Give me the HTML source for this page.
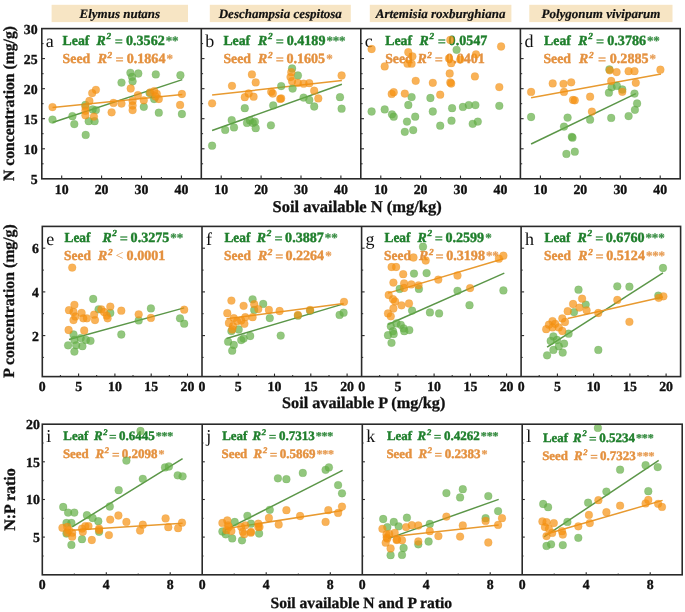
<!DOCTYPE html><html><head><meta charset="utf-8"><style>
html,body{margin:0;padding:0;background:#fff;}
svg{display:block;filter:blur(0.35px);}
text{font-family:"Liberation Serif",serif;text-rendering:geometricPrecision;}
.b{font-weight:bold;stroke:#111;stroke-width:0.3px;}
.tk{font-weight:bold;font-size:13.8px;fill:#111;stroke:#111;stroke-width:0.35px;}
.st{font-weight:bold;font-size:13.8px;stroke-width:0.4px;}
</style></head><body>
<svg width="685" height="612" viewBox="0 0 685 612">
<rect width="685" height="612" fill="#fff"/>
<rect x="51.6" y="4.8" width="136.4" height="17.3" fill="#f7e5c4"/>
<text x="119.8" y="18.2" text-anchor="middle" style="font-weight:bold;font-style:italic;font-size:13px;stroke:#111;stroke-width:0.2px" fill="#111">Elymus nutans</text>
<rect x="209.8" y="4.8" width="141.0" height="17.3" fill="#f7e5c4"/>
<text x="280.3" y="18.2" text-anchor="middle" style="font-weight:bold;font-style:italic;font-size:13px;stroke:#111;stroke-width:0.2px" fill="#111">Deschampsia cespitosa</text>
<rect x="369.8" y="4.8" width="141.6" height="17.3" fill="#f7e5c4"/>
<text x="440.6" y="18.2" text-anchor="middle" style="font-weight:bold;font-style:italic;font-size:13px;stroke:#111;stroke-width:0.2px" fill="#111">Artemisia roxburghiana</text>
<rect x="529.3" y="4.8" width="143.2" height="17.3" fill="#f7e5c4"/>
<text x="600.9" y="18.2" text-anchor="middle" style="font-weight:bold;font-style:italic;font-size:13px;stroke:#111;stroke-width:0.2px" fill="#111">Polygonum viviparum</text>
<text x="45.8" y="46.7" style="font-size:18px" fill="#111">a</text>
<text class="st" transform="translate(62.6,44.8) scale(1.0,1)" fill="#1f7f2c" stroke="#1f7f2c" style="font-size:13.8px">Leaf</text>
<text class="st" x="96.6" y="44.8" fill="#1f7f2c" stroke="#1f7f2c" font-style="italic" style="font-size:13.8px">R</text>
<text class="st" x="106.5" y="39.2" fill="#1f7f2c" stroke="#1f7f2c" font-style="italic" style="font-size:9.2px">2</text>
<text class="st" transform="translate(114.7,45.9) scale(1.04,1)" fill="#1f7f2c" stroke="#1f7f2c" fill-opacity="0.85" stroke-opacity="0.5" style="font-size:13.8px">=</text>
<text class="st" x="126.0" y="44.8" fill="#1f7f2c" stroke="#1f7f2c" style="font-size:14.1px">0.3562<tspan dx="1.0" fill-opacity="0.85" stroke-opacity="0.6" style="letter-spacing:-0.2px;font-size:13.0px">**</tspan></text>
<text class="st" transform="translate(62.6,63.2) scale(1.0,1)" fill="#e4913f" stroke="#e4913f" style="font-size:13.8px">Seed</text>
<text class="st" x="97.7" y="63.2" fill="#e4913f" stroke="#e4913f" font-style="italic" style="font-size:13.8px">R</text>
<text class="st" x="107.6" y="57.6" fill="#e4913f" stroke="#e4913f" font-style="italic" style="font-size:9.2px">2</text>
<text class="st" transform="translate(115.4,64.3) scale(1.04,1)" fill="#e4913f" stroke="#e4913f" fill-opacity="0.85" stroke-opacity="0.5" style="font-size:13.8px">=</text>
<text class="st" x="126.7" y="63.2" fill="#e4913f" stroke="#e4913f" style="font-size:14.1px">0.1864<tspan dx="1.0" fill-opacity="0.85" stroke-opacity="0.6" style="letter-spacing:-0.2px;font-size:13.0px">*</tspan></text>
<line x1="52.5" y1="122.5" x2="182.3" y2="79.6" stroke="#5b9648" stroke-width="1.5"/>
<line x1="52.5" y1="107.5" x2="182.3" y2="94.4" stroke="#e89a30" stroke-width="1.5"/>
<circle cx="52.5" cy="119.6" r="3.9" fill="#64af46" fill-opacity="0.7" stroke="#5a9a40" stroke-opacity="0.3" stroke-width="0.6"/>
<circle cx="72.4" cy="116.2" r="3.9" fill="#64af46" fill-opacity="0.7" stroke="#5a9a40" stroke-opacity="0.3" stroke-width="0.6"/>
<circle cx="74.3" cy="124.1" r="3.9" fill="#64af46" fill-opacity="0.7" stroke="#5a9a40" stroke-opacity="0.3" stroke-width="0.6"/>
<circle cx="85.7" cy="134.9" r="3.9" fill="#64af46" fill-opacity="0.7" stroke="#5a9a40" stroke-opacity="0.3" stroke-width="0.6"/>
<circle cx="85.4" cy="104.9" r="3.9" fill="#64af46" fill-opacity="0.7" stroke="#5a9a40" stroke-opacity="0.3" stroke-width="0.6"/>
<circle cx="88.7" cy="121.2" r="3.9" fill="#64af46" fill-opacity="0.7" stroke="#5a9a40" stroke-opacity="0.3" stroke-width="0.6"/>
<circle cx="94.6" cy="121.2" r="3.9" fill="#64af46" fill-opacity="0.7" stroke="#5a9a40" stroke-opacity="0.3" stroke-width="0.6"/>
<circle cx="95.9" cy="110.1" r="3.9" fill="#64af46" fill-opacity="0.7" stroke="#5a9a40" stroke-opacity="0.3" stroke-width="0.6"/>
<circle cx="92.6" cy="109.4" r="3.9" fill="#64af46" fill-opacity="0.7" stroke="#5a9a40" stroke-opacity="0.3" stroke-width="0.6"/>
<circle cx="121.5" cy="82.6" r="3.9" fill="#64af46" fill-opacity="0.7" stroke="#5a9a40" stroke-opacity="0.3" stroke-width="0.6"/>
<circle cx="130.4" cy="72.8" r="3.9" fill="#64af46" fill-opacity="0.7" stroke="#5a9a40" stroke-opacity="0.3" stroke-width="0.6"/>
<circle cx="132.0" cy="76.8" r="3.9" fill="#64af46" fill-opacity="0.7" stroke="#5a9a40" stroke-opacity="0.3" stroke-width="0.6"/>
<circle cx="138.3" cy="73.5" r="3.9" fill="#64af46" fill-opacity="0.7" stroke="#5a9a40" stroke-opacity="0.3" stroke-width="0.6"/>
<circle cx="132.6" cy="81.3" r="3.9" fill="#64af46" fill-opacity="0.7" stroke="#5a9a40" stroke-opacity="0.3" stroke-width="0.6"/>
<circle cx="155.8" cy="74.4" r="3.9" fill="#64af46" fill-opacity="0.7" stroke="#5a9a40" stroke-opacity="0.3" stroke-width="0.6"/>
<circle cx="180.4" cy="75.2" r="3.9" fill="#64af46" fill-opacity="0.7" stroke="#5a9a40" stroke-opacity="0.3" stroke-width="0.6"/>
<circle cx="143.8" cy="106.8" r="3.9" fill="#64af46" fill-opacity="0.7" stroke="#5a9a40" stroke-opacity="0.3" stroke-width="0.6"/>
<circle cx="154.2" cy="99.0" r="3.9" fill="#64af46" fill-opacity="0.7" stroke="#5a9a40" stroke-opacity="0.3" stroke-width="0.6"/>
<circle cx="158.8" cy="112.7" r="3.9" fill="#64af46" fill-opacity="0.7" stroke="#5a9a40" stroke-opacity="0.3" stroke-width="0.6"/>
<circle cx="181.9" cy="114.0" r="3.9" fill="#64af46" fill-opacity="0.7" stroke="#5a9a40" stroke-opacity="0.3" stroke-width="0.6"/>
<circle cx="149.6" cy="93.1" r="3.9" fill="#64af46" fill-opacity="0.7" stroke="#5a9a40" stroke-opacity="0.3" stroke-width="0.6"/>
<circle cx="52.5" cy="107.1" r="3.9" fill="#f7910f" fill-opacity="0.7" stroke="#e08a20" stroke-opacity="0.3" stroke-width="0.6"/>
<circle cx="95.9" cy="89.8" r="3.9" fill="#f7910f" fill-opacity="0.7" stroke="#e08a20" stroke-opacity="0.3" stroke-width="0.6"/>
<circle cx="92.2" cy="93.1" r="3.9" fill="#f7910f" fill-opacity="0.7" stroke="#e08a20" stroke-opacity="0.3" stroke-width="0.6"/>
<circle cx="89.4" cy="100.9" r="3.9" fill="#f7910f" fill-opacity="0.7" stroke="#e08a20" stroke-opacity="0.3" stroke-width="0.6"/>
<circle cx="85.4" cy="106.8" r="3.9" fill="#f7910f" fill-opacity="0.7" stroke="#e08a20" stroke-opacity="0.3" stroke-width="0.6"/>
<circle cx="85.4" cy="110.8" r="3.9" fill="#f7910f" fill-opacity="0.7" stroke="#e08a20" stroke-opacity="0.3" stroke-width="0.6"/>
<circle cx="85.4" cy="115.3" r="3.9" fill="#f7910f" fill-opacity="0.7" stroke="#e08a20" stroke-opacity="0.3" stroke-width="0.6"/>
<circle cx="93.9" cy="116.6" r="3.9" fill="#f7910f" fill-opacity="0.7" stroke="#e08a20" stroke-opacity="0.3" stroke-width="0.6"/>
<circle cx="111.6" cy="112.3" r="3.9" fill="#f7910f" fill-opacity="0.7" stroke="#e08a20" stroke-opacity="0.3" stroke-width="0.6"/>
<circle cx="113.5" cy="102.9" r="3.9" fill="#f7910f" fill-opacity="0.7" stroke="#e08a20" stroke-opacity="0.3" stroke-width="0.6"/>
<circle cx="121.5" cy="103.6" r="3.9" fill="#f7910f" fill-opacity="0.7" stroke="#e08a20" stroke-opacity="0.3" stroke-width="0.6"/>
<circle cx="130.7" cy="88.5" r="3.9" fill="#f7910f" fill-opacity="0.7" stroke="#e08a20" stroke-opacity="0.3" stroke-width="0.6"/>
<circle cx="137.9" cy="95.1" r="3.9" fill="#f7910f" fill-opacity="0.7" stroke="#e08a20" stroke-opacity="0.3" stroke-width="0.6"/>
<circle cx="132.6" cy="100.9" r="3.9" fill="#f7910f" fill-opacity="0.7" stroke="#e08a20" stroke-opacity="0.3" stroke-width="0.6"/>
<circle cx="132.6" cy="105.5" r="3.9" fill="#f7910f" fill-opacity="0.7" stroke="#e08a20" stroke-opacity="0.3" stroke-width="0.6"/>
<circle cx="132.6" cy="110.1" r="3.9" fill="#f7910f" fill-opacity="0.7" stroke="#e08a20" stroke-opacity="0.3" stroke-width="0.6"/>
<circle cx="143.8" cy="100.3" r="3.9" fill="#f7910f" fill-opacity="0.7" stroke="#e08a20" stroke-opacity="0.3" stroke-width="0.6"/>
<circle cx="150.3" cy="92.5" r="3.9" fill="#f7910f" fill-opacity="0.7" stroke="#e08a20" stroke-opacity="0.3" stroke-width="0.6"/>
<circle cx="154.2" cy="91.1" r="3.9" fill="#f7910f" fill-opacity="0.7" stroke="#e08a20" stroke-opacity="0.3" stroke-width="0.6"/>
<circle cx="156.8" cy="93.8" r="3.9" fill="#f7910f" fill-opacity="0.7" stroke="#e08a20" stroke-opacity="0.3" stroke-width="0.6"/>
<circle cx="158.8" cy="99.0" r="3.9" fill="#f7910f" fill-opacity="0.7" stroke="#e08a20" stroke-opacity="0.3" stroke-width="0.6"/>
<circle cx="155.5" cy="96.4" r="3.9" fill="#f7910f" fill-opacity="0.7" stroke="#e08a20" stroke-opacity="0.3" stroke-width="0.6"/>
<circle cx="181.9" cy="94.0" r="3.9" fill="#f7910f" fill-opacity="0.7" stroke="#e08a20" stroke-opacity="0.3" stroke-width="0.6"/>
<circle cx="180.1" cy="104.9" r="3.9" fill="#f7910f" fill-opacity="0.7" stroke="#e08a20" stroke-opacity="0.3" stroke-width="0.6"/>
<line x1="61.7" y1="178.8" x2="61.7" y2="175.6" stroke="#2a2a2a" stroke-width="1.1"/>
<line x1="101.6" y1="178.8" x2="101.6" y2="175.6" stroke="#2a2a2a" stroke-width="1.1"/>
<line x1="141.5" y1="178.8" x2="141.5" y2="175.6" stroke="#2a2a2a" stroke-width="1.1"/>
<line x1="181.4" y1="178.8" x2="181.4" y2="175.6" stroke="#2a2a2a" stroke-width="1.1"/>
<line x1="81.7" y1="178.8" x2="81.7" y2="177.0" stroke="#2a2a2a" stroke-width="1.0"/>
<line x1="121.5" y1="178.8" x2="121.5" y2="177.0" stroke="#2a2a2a" stroke-width="1.0"/>
<line x1="161.4" y1="178.8" x2="161.4" y2="177.0" stroke="#2a2a2a" stroke-width="1.0"/>
<line x1="41.8" y1="148.8" x2="45.0" y2="148.8" stroke="#2a2a2a" stroke-width="1.1"/>
<line x1="41.8" y1="118.7" x2="45.0" y2="118.7" stroke="#2a2a2a" stroke-width="1.1"/>
<line x1="41.8" y1="88.7" x2="45.0" y2="88.7" stroke="#2a2a2a" stroke-width="1.1"/>
<line x1="41.8" y1="58.6" x2="45.0" y2="58.6" stroke="#2a2a2a" stroke-width="1.1"/>
<line x1="41.8" y1="163.8" x2="43.6" y2="163.8" stroke="#2a2a2a" stroke-width="1.0"/>
<line x1="41.8" y1="133.7" x2="43.6" y2="133.7" stroke="#2a2a2a" stroke-width="1.0"/>
<line x1="41.8" y1="103.7" x2="43.6" y2="103.7" stroke="#2a2a2a" stroke-width="1.0"/>
<line x1="41.8" y1="73.7" x2="43.6" y2="73.7" stroke="#2a2a2a" stroke-width="1.0"/>
<line x1="41.8" y1="43.6" x2="43.6" y2="43.6" stroke="#2a2a2a" stroke-width="1.0"/>
<text class="tk" x="61.7" y="193.9" text-anchor="middle">10</text>
<text class="tk" x="101.6" y="193.9" text-anchor="middle">20</text>
<text class="tk" x="141.5" y="193.9" text-anchor="middle">30</text>
<text class="tk" x="181.4" y="193.9" text-anchor="middle">40</text>
<text class="tk" x="37.6" y="183.7" text-anchor="end">5</text>
<text class="tk" x="37.6" y="153.7" text-anchor="end">10</text>
<text class="tk" x="37.6" y="123.6" text-anchor="end">15</text>
<text class="tk" x="37.6" y="93.6" text-anchor="end">20</text>
<text class="tk" x="37.6" y="63.5" text-anchor="end">25</text>
<text class="tk" x="37.6" y="33.5" text-anchor="end">30</text>
<text x="205.3" y="46.7" style="font-size:18px" fill="#111">b</text>
<text class="st" transform="translate(223.4,44.8) scale(1.0,1)" fill="#1f7f2c" stroke="#1f7f2c" style="font-size:13.8px">Leaf</text>
<text class="st" x="258.1" y="44.8" fill="#1f7f2c" stroke="#1f7f2c" font-style="italic" style="font-size:13.8px">R</text>
<text class="st" x="268.0" y="39.2" fill="#1f7f2c" stroke="#1f7f2c" font-style="italic" style="font-size:9.2px">2</text>
<text class="st" transform="translate(275.7,45.9) scale(1.04,1)" fill="#1f7f2c" stroke="#1f7f2c" fill-opacity="0.85" stroke-opacity="0.5" style="font-size:13.8px">=</text>
<text class="st" x="286.7" y="44.8" fill="#1f7f2c" stroke="#1f7f2c" style="font-size:14.1px">0.4189<tspan dx="1.0" fill-opacity="0.85" stroke-opacity="0.6" style="letter-spacing:-0.2px;font-size:13.0px">***</tspan></text>
<text class="st" transform="translate(223.4,63.2) scale(1.0,1)" fill="#e4913f" stroke="#e4913f" style="font-size:13.8px">Seed</text>
<text class="st" x="258.1" y="63.2" fill="#e4913f" stroke="#e4913f" font-style="italic" style="font-size:13.8px">R</text>
<text class="st" x="268.0" y="57.6" fill="#e4913f" stroke="#e4913f" font-style="italic" style="font-size:9.2px">2</text>
<text class="st" transform="translate(275.8,64.3) scale(1.04,1)" fill="#e4913f" stroke="#e4913f" fill-opacity="0.85" stroke-opacity="0.5" style="font-size:13.8px">=</text>
<text class="st" x="286.4" y="63.2" fill="#e4913f" stroke="#e4913f" style="font-size:14.1px">0.1605<tspan dx="1.0" fill-opacity="0.85" stroke-opacity="0.6" style="letter-spacing:-0.2px;font-size:13.0px">*</tspan></text>
<line x1="212.1" y1="130.5" x2="341.9" y2="84.2" stroke="#5b9648" stroke-width="1.5"/>
<line x1="212.1" y1="95.1" x2="341.9" y2="80.4" stroke="#e89a30" stroke-width="1.5"/>
<circle cx="212.1" cy="145.7" r="3.9" fill="#64af46" fill-opacity="0.7" stroke="#5a9a40" stroke-opacity="0.3" stroke-width="0.6"/>
<circle cx="225.2" cy="129.9" r="3.9" fill="#64af46" fill-opacity="0.7" stroke="#5a9a40" stroke-opacity="0.3" stroke-width="0.6"/>
<circle cx="231.7" cy="120.1" r="3.9" fill="#64af46" fill-opacity="0.7" stroke="#5a9a40" stroke-opacity="0.3" stroke-width="0.6"/>
<circle cx="234.0" cy="127.4" r="3.9" fill="#64af46" fill-opacity="0.7" stroke="#5a9a40" stroke-opacity="0.3" stroke-width="0.6"/>
<circle cx="244.8" cy="108.2" r="3.9" fill="#64af46" fill-opacity="0.7" stroke="#5a9a40" stroke-opacity="0.3" stroke-width="0.6"/>
<circle cx="247.0" cy="122.9" r="3.9" fill="#64af46" fill-opacity="0.7" stroke="#5a9a40" stroke-opacity="0.3" stroke-width="0.6"/>
<circle cx="250.0" cy="120.4" r="3.9" fill="#64af46" fill-opacity="0.7" stroke="#5a9a40" stroke-opacity="0.3" stroke-width="0.6"/>
<circle cx="252.9" cy="122.9" r="3.9" fill="#64af46" fill-opacity="0.7" stroke="#5a9a40" stroke-opacity="0.3" stroke-width="0.6"/>
<circle cx="254.9" cy="121.7" r="3.9" fill="#64af46" fill-opacity="0.7" stroke="#5a9a40" stroke-opacity="0.3" stroke-width="0.6"/>
<circle cx="255.7" cy="128.2" r="3.9" fill="#64af46" fill-opacity="0.7" stroke="#5a9a40" stroke-opacity="0.3" stroke-width="0.6"/>
<circle cx="270.9" cy="125.3" r="3.9" fill="#64af46" fill-opacity="0.7" stroke="#5a9a40" stroke-opacity="0.3" stroke-width="0.6"/>
<circle cx="273.2" cy="105.4" r="3.9" fill="#64af46" fill-opacity="0.7" stroke="#5a9a40" stroke-opacity="0.3" stroke-width="0.6"/>
<circle cx="281.2" cy="86.1" r="3.9" fill="#64af46" fill-opacity="0.7" stroke="#5a9a40" stroke-opacity="0.3" stroke-width="0.6"/>
<circle cx="292.1" cy="68.5" r="3.9" fill="#64af46" fill-opacity="0.7" stroke="#5a9a40" stroke-opacity="0.3" stroke-width="0.6"/>
<circle cx="297.9" cy="75.5" r="3.9" fill="#64af46" fill-opacity="0.7" stroke="#5a9a40" stroke-opacity="0.3" stroke-width="0.6"/>
<circle cx="292.6" cy="88.6" r="3.9" fill="#64af46" fill-opacity="0.7" stroke="#5a9a40" stroke-opacity="0.3" stroke-width="0.6"/>
<circle cx="303.6" cy="97.6" r="3.9" fill="#64af46" fill-opacity="0.7" stroke="#5a9a40" stroke-opacity="0.3" stroke-width="0.6"/>
<circle cx="309.3" cy="100.0" r="3.9" fill="#64af46" fill-opacity="0.7" stroke="#5a9a40" stroke-opacity="0.3" stroke-width="0.6"/>
<circle cx="314.2" cy="106.5" r="3.9" fill="#64af46" fill-opacity="0.7" stroke="#5a9a40" stroke-opacity="0.3" stroke-width="0.6"/>
<circle cx="340.0" cy="97.2" r="3.9" fill="#64af46" fill-opacity="0.7" stroke="#5a9a40" stroke-opacity="0.3" stroke-width="0.6"/>
<circle cx="341.6" cy="108.7" r="3.9" fill="#64af46" fill-opacity="0.7" stroke="#5a9a40" stroke-opacity="0.3" stroke-width="0.6"/>
<circle cx="212.1" cy="103.3" r="3.9" fill="#f7910f" fill-opacity="0.7" stroke="#e08a20" stroke-opacity="0.3" stroke-width="0.6"/>
<circle cx="232.0" cy="85.8" r="3.9" fill="#f7910f" fill-opacity="0.7" stroke="#e08a20" stroke-opacity="0.3" stroke-width="0.6"/>
<circle cx="251.9" cy="74.4" r="3.9" fill="#f7910f" fill-opacity="0.7" stroke="#e08a20" stroke-opacity="0.3" stroke-width="0.6"/>
<circle cx="255.7" cy="82.4" r="3.9" fill="#f7910f" fill-opacity="0.7" stroke="#e08a20" stroke-opacity="0.3" stroke-width="0.6"/>
<circle cx="244.8" cy="97.2" r="3.9" fill="#f7910f" fill-opacity="0.7" stroke="#e08a20" stroke-opacity="0.3" stroke-width="0.6"/>
<circle cx="248.7" cy="93.5" r="3.9" fill="#f7910f" fill-opacity="0.7" stroke="#e08a20" stroke-opacity="0.3" stroke-width="0.6"/>
<circle cx="253.6" cy="96.7" r="3.9" fill="#f7910f" fill-opacity="0.7" stroke="#e08a20" stroke-opacity="0.3" stroke-width="0.6"/>
<circle cx="271.2" cy="91.8" r="3.9" fill="#f7910f" fill-opacity="0.7" stroke="#e08a20" stroke-opacity="0.3" stroke-width="0.6"/>
<circle cx="272.8" cy="93.5" r="3.9" fill="#f7910f" fill-opacity="0.7" stroke="#e08a20" stroke-opacity="0.3" stroke-width="0.6"/>
<circle cx="280.2" cy="98.9" r="3.9" fill="#f7910f" fill-opacity="0.7" stroke="#e08a20" stroke-opacity="0.3" stroke-width="0.6"/>
<circle cx="281.2" cy="98.4" r="3.9" fill="#f7910f" fill-opacity="0.7" stroke="#e08a20" stroke-opacity="0.3" stroke-width="0.6"/>
<circle cx="291.3" cy="72.2" r="3.9" fill="#f7910f" fill-opacity="0.7" stroke="#e08a20" stroke-opacity="0.3" stroke-width="0.6"/>
<circle cx="290.5" cy="77.1" r="3.9" fill="#f7910f" fill-opacity="0.7" stroke="#e08a20" stroke-opacity="0.3" stroke-width="0.6"/>
<circle cx="292.1" cy="81.2" r="3.9" fill="#f7910f" fill-opacity="0.7" stroke="#e08a20" stroke-opacity="0.3" stroke-width="0.6"/>
<circle cx="297.9" cy="82.9" r="3.9" fill="#f7910f" fill-opacity="0.7" stroke="#e08a20" stroke-opacity="0.3" stroke-width="0.6"/>
<circle cx="303.6" cy="83.7" r="3.9" fill="#f7910f" fill-opacity="0.7" stroke="#e08a20" stroke-opacity="0.3" stroke-width="0.6"/>
<circle cx="309.3" cy="83.2" r="3.9" fill="#f7910f" fill-opacity="0.7" stroke="#e08a20" stroke-opacity="0.3" stroke-width="0.6"/>
<circle cx="314.2" cy="90.7" r="3.9" fill="#f7910f" fill-opacity="0.7" stroke="#e08a20" stroke-opacity="0.3" stroke-width="0.6"/>
<circle cx="318.3" cy="98.4" r="3.9" fill="#f7910f" fill-opacity="0.7" stroke="#e08a20" stroke-opacity="0.3" stroke-width="0.6"/>
<circle cx="341.6" cy="75.5" r="3.9" fill="#f7910f" fill-opacity="0.7" stroke="#e08a20" stroke-opacity="0.3" stroke-width="0.6"/>
<line x1="221.2" y1="178.8" x2="221.2" y2="175.6" stroke="#2a2a2a" stroke-width="1.1"/>
<line x1="261.1" y1="178.8" x2="261.1" y2="175.6" stroke="#2a2a2a" stroke-width="1.1"/>
<line x1="301.0" y1="178.8" x2="301.0" y2="175.6" stroke="#2a2a2a" stroke-width="1.1"/>
<line x1="340.9" y1="178.8" x2="340.9" y2="175.6" stroke="#2a2a2a" stroke-width="1.1"/>
<line x1="241.2" y1="178.8" x2="241.2" y2="177.0" stroke="#2a2a2a" stroke-width="1.0"/>
<line x1="281.1" y1="178.8" x2="281.1" y2="177.0" stroke="#2a2a2a" stroke-width="1.0"/>
<line x1="320.9" y1="178.8" x2="320.9" y2="177.0" stroke="#2a2a2a" stroke-width="1.0"/>
<line x1="201.3" y1="148.8" x2="204.5" y2="148.8" stroke="#2a2a2a" stroke-width="1.1"/>
<line x1="201.3" y1="118.7" x2="204.5" y2="118.7" stroke="#2a2a2a" stroke-width="1.1"/>
<line x1="201.3" y1="88.7" x2="204.5" y2="88.7" stroke="#2a2a2a" stroke-width="1.1"/>
<line x1="201.3" y1="58.6" x2="204.5" y2="58.6" stroke="#2a2a2a" stroke-width="1.1"/>
<line x1="201.3" y1="163.8" x2="203.1" y2="163.8" stroke="#2a2a2a" stroke-width="1.0"/>
<line x1="201.3" y1="133.7" x2="203.1" y2="133.7" stroke="#2a2a2a" stroke-width="1.0"/>
<line x1="201.3" y1="103.7" x2="203.1" y2="103.7" stroke="#2a2a2a" stroke-width="1.0"/>
<line x1="201.3" y1="73.7" x2="203.1" y2="73.7" stroke="#2a2a2a" stroke-width="1.0"/>
<line x1="201.3" y1="43.6" x2="203.1" y2="43.6" stroke="#2a2a2a" stroke-width="1.0"/>
<text class="tk" x="221.2" y="193.9" text-anchor="middle">10</text>
<text class="tk" x="261.1" y="193.9" text-anchor="middle">20</text>
<text class="tk" x="301.0" y="193.9" text-anchor="middle">30</text>
<text class="tk" x="340.9" y="193.9" text-anchor="middle">40</text>
<text x="364.8" y="46.7" style="font-size:18px" fill="#111">c</text>
<text class="st" transform="translate(385.2,44.8) scale(1.0,1)" fill="#1f7f2c" stroke="#1f7f2c" style="font-size:13.8px">Leaf</text>
<text class="st" x="419.6" y="44.8" fill="#1f7f2c" stroke="#1f7f2c" font-style="italic" style="font-size:13.8px">R</text>
<text class="st" x="429.5" y="39.2" fill="#1f7f2c" stroke="#1f7f2c" font-style="italic" style="font-size:9.2px">2</text>
<text class="st" transform="translate(437.7,45.9) scale(1.04,1)" fill="#1f7f2c" stroke="#1f7f2c" fill-opacity="0.85" stroke-opacity="0.5" style="font-size:13.8px">=</text>
<text class="st" x="448.6" y="44.8" fill="#1f7f2c" stroke="#1f7f2c" style="font-size:14.1px">0.0547</text>
<text class="st" transform="translate(385.2,63.2) scale(1.0,1)" fill="#e4913f" stroke="#e4913f" style="font-size:13.8px">Seed</text>
<text class="st" x="417.4" y="63.2" fill="#e4913f" stroke="#e4913f" font-style="italic" style="font-size:13.8px">R</text>
<text class="st" x="427.3" y="57.6" fill="#e4913f" stroke="#e4913f" font-style="italic" style="font-size:9.2px">2</text>
<text class="st" transform="translate(434.7,64.3) scale(1.04,1)" fill="#e4913f" stroke="#e4913f" fill-opacity="0.85" stroke-opacity="0.5" style="font-size:13.8px">=</text>
<text class="st" x="446.1" y="63.2" fill="#e4913f" stroke="#e4913f" style="font-size:14.1px">0.0401</text>
<circle cx="371.6" cy="111.5" r="3.9" fill="#64af46" fill-opacity="0.7" stroke="#5a9a40" stroke-opacity="0.3" stroke-width="0.6"/>
<circle cx="384.7" cy="109.4" r="3.9" fill="#64af46" fill-opacity="0.7" stroke="#5a9a40" stroke-opacity="0.3" stroke-width="0.6"/>
<circle cx="392.0" cy="114.3" r="3.9" fill="#64af46" fill-opacity="0.7" stroke="#5a9a40" stroke-opacity="0.3" stroke-width="0.6"/>
<circle cx="393.7" cy="116.7" r="3.9" fill="#64af46" fill-opacity="0.7" stroke="#5a9a40" stroke-opacity="0.3" stroke-width="0.6"/>
<circle cx="411.6" cy="97.1" r="3.9" fill="#64af46" fill-opacity="0.7" stroke="#5a9a40" stroke-opacity="0.3" stroke-width="0.6"/>
<circle cx="408.3" cy="105.0" r="3.9" fill="#64af46" fill-opacity="0.7" stroke="#5a9a40" stroke-opacity="0.3" stroke-width="0.6"/>
<circle cx="415.2" cy="116.7" r="3.9" fill="#64af46" fill-opacity="0.7" stroke="#5a9a40" stroke-opacity="0.3" stroke-width="0.6"/>
<circle cx="407.0" cy="121.6" r="3.9" fill="#64af46" fill-opacity="0.7" stroke="#5a9a40" stroke-opacity="0.3" stroke-width="0.6"/>
<circle cx="404.8" cy="131.8" r="3.9" fill="#64af46" fill-opacity="0.7" stroke="#5a9a40" stroke-opacity="0.3" stroke-width="0.6"/>
<circle cx="413.2" cy="130.1" r="3.9" fill="#64af46" fill-opacity="0.7" stroke="#5a9a40" stroke-opacity="0.3" stroke-width="0.6"/>
<circle cx="430.4" cy="98.0" r="3.9" fill="#64af46" fill-opacity="0.7" stroke="#5a9a40" stroke-opacity="0.3" stroke-width="0.6"/>
<circle cx="432.8" cy="111.5" r="3.9" fill="#64af46" fill-opacity="0.7" stroke="#5a9a40" stroke-opacity="0.3" stroke-width="0.6"/>
<circle cx="440.2" cy="125.7" r="3.9" fill="#64af46" fill-opacity="0.7" stroke="#5a9a40" stroke-opacity="0.3" stroke-width="0.6"/>
<circle cx="456.6" cy="49.8" r="3.9" fill="#64af46" fill-opacity="0.7" stroke="#5a9a40" stroke-opacity="0.3" stroke-width="0.6"/>
<circle cx="452.1" cy="108.2" r="3.9" fill="#64af46" fill-opacity="0.7" stroke="#5a9a40" stroke-opacity="0.3" stroke-width="0.6"/>
<circle cx="462.9" cy="106.9" r="3.9" fill="#64af46" fill-opacity="0.7" stroke="#5a9a40" stroke-opacity="0.3" stroke-width="0.6"/>
<circle cx="468.8" cy="105.1" r="3.9" fill="#64af46" fill-opacity="0.7" stroke="#5a9a40" stroke-opacity="0.3" stroke-width="0.6"/>
<circle cx="475.4" cy="105.1" r="3.9" fill="#64af46" fill-opacity="0.7" stroke="#5a9a40" stroke-opacity="0.3" stroke-width="0.6"/>
<circle cx="499.3" cy="105.8" r="3.9" fill="#64af46" fill-opacity="0.7" stroke="#5a9a40" stroke-opacity="0.3" stroke-width="0.6"/>
<circle cx="451.5" cy="120.7" r="3.9" fill="#64af46" fill-opacity="0.7" stroke="#5a9a40" stroke-opacity="0.3" stroke-width="0.6"/>
<circle cx="472.7" cy="123.8" r="3.9" fill="#64af46" fill-opacity="0.7" stroke="#5a9a40" stroke-opacity="0.3" stroke-width="0.6"/>
<circle cx="477.8" cy="121.6" r="3.9" fill="#64af46" fill-opacity="0.7" stroke="#5a9a40" stroke-opacity="0.3" stroke-width="0.6"/>
<circle cx="371.6" cy="49.0" r="3.9" fill="#f7910f" fill-opacity="0.7" stroke="#e08a20" stroke-opacity="0.3" stroke-width="0.6"/>
<circle cx="384.7" cy="66.4" r="3.9" fill="#f7910f" fill-opacity="0.7" stroke="#e08a20" stroke-opacity="0.3" stroke-width="0.6"/>
<circle cx="408.3" cy="52.2" r="3.9" fill="#f7910f" fill-opacity="0.7" stroke="#e08a20" stroke-opacity="0.3" stroke-width="0.6"/>
<circle cx="412.4" cy="56.3" r="3.9" fill="#f7910f" fill-opacity="0.7" stroke="#e08a20" stroke-opacity="0.3" stroke-width="0.6"/>
<circle cx="407.5" cy="63.7" r="3.9" fill="#f7910f" fill-opacity="0.7" stroke="#e08a20" stroke-opacity="0.3" stroke-width="0.6"/>
<circle cx="411.6" cy="63.7" r="3.9" fill="#f7910f" fill-opacity="0.7" stroke="#e08a20" stroke-opacity="0.3" stroke-width="0.6"/>
<circle cx="415.7" cy="80.8" r="3.9" fill="#f7910f" fill-opacity="0.7" stroke="#e08a20" stroke-opacity="0.3" stroke-width="0.6"/>
<circle cx="432.8" cy="82.8" r="3.9" fill="#f7910f" fill-opacity="0.7" stroke="#e08a20" stroke-opacity="0.3" stroke-width="0.6"/>
<circle cx="391.7" cy="93.9" r="3.9" fill="#f7910f" fill-opacity="0.7" stroke="#e08a20" stroke-opacity="0.3" stroke-width="0.6"/>
<circle cx="393.7" cy="92.2" r="3.9" fill="#f7910f" fill-opacity="0.7" stroke="#e08a20" stroke-opacity="0.3" stroke-width="0.6"/>
<circle cx="404.8" cy="93.6" r="3.9" fill="#f7910f" fill-opacity="0.7" stroke="#e08a20" stroke-opacity="0.3" stroke-width="0.6"/>
<circle cx="440.2" cy="94.7" r="3.9" fill="#f7910f" fill-opacity="0.7" stroke="#e08a20" stroke-opacity="0.3" stroke-width="0.6"/>
<circle cx="450.3" cy="39.9" r="3.9" fill="#f7910f" fill-opacity="0.7" stroke="#e08a20" stroke-opacity="0.3" stroke-width="0.6"/>
<circle cx="501.1" cy="46.5" r="3.9" fill="#f7910f" fill-opacity="0.7" stroke="#e08a20" stroke-opacity="0.3" stroke-width="0.6"/>
<circle cx="451.2" cy="63.2" r="3.9" fill="#f7910f" fill-opacity="0.7" stroke="#e08a20" stroke-opacity="0.3" stroke-width="0.6"/>
<circle cx="449.0" cy="58.4" r="3.9" fill="#f7910f" fill-opacity="0.7" stroke="#e08a20" stroke-opacity="0.3" stroke-width="0.6"/>
<circle cx="460.2" cy="59.6" r="3.9" fill="#f7910f" fill-opacity="0.7" stroke="#e08a20" stroke-opacity="0.3" stroke-width="0.6"/>
<circle cx="476.0" cy="54.3" r="3.9" fill="#f7910f" fill-opacity="0.7" stroke="#e08a20" stroke-opacity="0.3" stroke-width="0.6"/>
<circle cx="449.7" cy="73.5" r="3.9" fill="#f7910f" fill-opacity="0.7" stroke="#e08a20" stroke-opacity="0.3" stroke-width="0.6"/>
<circle cx="474.9" cy="76.4" r="3.9" fill="#f7910f" fill-opacity="0.7" stroke="#e08a20" stroke-opacity="0.3" stroke-width="0.6"/>
<circle cx="450.3" cy="82.5" r="3.9" fill="#f7910f" fill-opacity="0.7" stroke="#e08a20" stroke-opacity="0.3" stroke-width="0.6"/>
<circle cx="451.2" cy="83.5" r="3.9" fill="#f7910f" fill-opacity="0.7" stroke="#e08a20" stroke-opacity="0.3" stroke-width="0.6"/>
<circle cx="499.3" cy="87.1" r="3.9" fill="#f7910f" fill-opacity="0.7" stroke="#e08a20" stroke-opacity="0.3" stroke-width="0.6"/>
<line x1="380.8" y1="178.8" x2="380.8" y2="175.6" stroke="#2a2a2a" stroke-width="1.1"/>
<line x1="420.6" y1="178.8" x2="420.6" y2="175.6" stroke="#2a2a2a" stroke-width="1.1"/>
<line x1="460.5" y1="178.8" x2="460.5" y2="175.6" stroke="#2a2a2a" stroke-width="1.1"/>
<line x1="500.4" y1="178.8" x2="500.4" y2="175.6" stroke="#2a2a2a" stroke-width="1.1"/>
<line x1="400.7" y1="178.8" x2="400.7" y2="177.0" stroke="#2a2a2a" stroke-width="1.0"/>
<line x1="440.6" y1="178.8" x2="440.6" y2="177.0" stroke="#2a2a2a" stroke-width="1.0"/>
<line x1="480.5" y1="178.8" x2="480.5" y2="177.0" stroke="#2a2a2a" stroke-width="1.0"/>
<line x1="360.8" y1="148.8" x2="364.0" y2="148.8" stroke="#2a2a2a" stroke-width="1.1"/>
<line x1="360.8" y1="118.7" x2="364.0" y2="118.7" stroke="#2a2a2a" stroke-width="1.1"/>
<line x1="360.8" y1="88.7" x2="364.0" y2="88.7" stroke="#2a2a2a" stroke-width="1.1"/>
<line x1="360.8" y1="58.6" x2="364.0" y2="58.6" stroke="#2a2a2a" stroke-width="1.1"/>
<line x1="360.8" y1="163.8" x2="362.6" y2="163.8" stroke="#2a2a2a" stroke-width="1.0"/>
<line x1="360.8" y1="133.7" x2="362.6" y2="133.7" stroke="#2a2a2a" stroke-width="1.0"/>
<line x1="360.8" y1="103.7" x2="362.6" y2="103.7" stroke="#2a2a2a" stroke-width="1.0"/>
<line x1="360.8" y1="73.7" x2="362.6" y2="73.7" stroke="#2a2a2a" stroke-width="1.0"/>
<line x1="360.8" y1="43.6" x2="362.6" y2="43.6" stroke="#2a2a2a" stroke-width="1.0"/>
<text class="tk" x="380.8" y="193.9" text-anchor="middle">10</text>
<text class="tk" x="420.6" y="193.9" text-anchor="middle">20</text>
<text class="tk" x="460.5" y="193.9" text-anchor="middle">30</text>
<text class="tk" x="500.4" y="193.9" text-anchor="middle">40</text>
<text x="524.4" y="46.7" style="font-size:18px" fill="#111">d</text>
<text class="st" transform="translate(544.1,44.8) scale(1.0,1)" fill="#1f7f2c" stroke="#1f7f2c" style="font-size:13.8px">Leaf</text>
<text class="st" x="578.3" y="44.8" fill="#1f7f2c" stroke="#1f7f2c" font-style="italic" style="font-size:13.8px">R</text>
<text class="st" x="588.2" y="39.2" fill="#1f7f2c" stroke="#1f7f2c" font-style="italic" style="font-size:9.2px">2</text>
<text class="st" transform="translate(595.9,45.9) scale(1.04,1)" fill="#1f7f2c" stroke="#1f7f2c" fill-opacity="0.85" stroke-opacity="0.5" style="font-size:13.8px">=</text>
<text class="st" x="607.3" y="44.8" fill="#1f7f2c" stroke="#1f7f2c" style="font-size:14.1px">0.3786<tspan dx="1.0" fill-opacity="0.85" stroke-opacity="0.6" style="letter-spacing:-0.2px;font-size:13.0px">**</tspan></text>
<text class="st" transform="translate(543.4,63.2) scale(1.0,1)" fill="#e4913f" stroke="#e4913f" style="font-size:13.8px">Seed</text>
<text class="st" x="579.0" y="63.2" fill="#e4913f" stroke="#e4913f" font-style="italic" style="font-size:13.8px">R</text>
<text class="st" x="588.9" y="57.6" fill="#e4913f" stroke="#e4913f" font-style="italic" style="font-size:9.2px">2</text>
<text class="st" transform="translate(598.1,64.3) scale(1.04,1)" fill="#e4913f" stroke="#e4913f" fill-opacity="0.85" stroke-opacity="0.5" style="font-size:13.8px">=</text>
<text class="st" x="609.8" y="63.2" fill="#e4913f" stroke="#e4913f" style="font-size:14.1px">0.2885<tspan dx="1.0" fill-opacity="0.85" stroke-opacity="0.6" style="letter-spacing:-0.2px;font-size:13.0px">*</tspan></text>
<line x1="531.1" y1="144.0" x2="635.8" y2="93.6" stroke="#5b9648" stroke-width="1.5"/>
<line x1="531.1" y1="97.8" x2="661.0" y2="73.9" stroke="#e89a30" stroke-width="1.5"/>
<circle cx="531.1" cy="117.0" r="3.9" fill="#64af46" fill-opacity="0.7" stroke="#5a9a40" stroke-opacity="0.3" stroke-width="0.6"/>
<circle cx="567.6" cy="117.6" r="3.9" fill="#64af46" fill-opacity="0.7" stroke="#5a9a40" stroke-opacity="0.3" stroke-width="0.6"/>
<circle cx="564.0" cy="126.6" r="3.9" fill="#64af46" fill-opacity="0.7" stroke="#5a9a40" stroke-opacity="0.3" stroke-width="0.6"/>
<circle cx="571.8" cy="136.8" r="3.9" fill="#64af46" fill-opacity="0.7" stroke="#5a9a40" stroke-opacity="0.3" stroke-width="0.6"/>
<circle cx="572.5" cy="137.7" r="3.9" fill="#64af46" fill-opacity="0.7" stroke="#5a9a40" stroke-opacity="0.3" stroke-width="0.6"/>
<circle cx="566.4" cy="153.9" r="3.9" fill="#64af46" fill-opacity="0.7" stroke="#5a9a40" stroke-opacity="0.3" stroke-width="0.6"/>
<circle cx="574.8" cy="151.7" r="3.9" fill="#64af46" fill-opacity="0.7" stroke="#5a9a40" stroke-opacity="0.3" stroke-width="0.6"/>
<circle cx="590.1" cy="119.7" r="3.9" fill="#64af46" fill-opacity="0.7" stroke="#5a9a40" stroke-opacity="0.3" stroke-width="0.6"/>
<circle cx="609.4" cy="69.4" r="3.9" fill="#64af46" fill-opacity="0.7" stroke="#5a9a40" stroke-opacity="0.3" stroke-width="0.6"/>
<circle cx="611.6" cy="87.3" r="3.9" fill="#64af46" fill-opacity="0.7" stroke="#5a9a40" stroke-opacity="0.3" stroke-width="0.6"/>
<circle cx="616.9" cy="85.9" r="3.9" fill="#64af46" fill-opacity="0.7" stroke="#5a9a40" stroke-opacity="0.3" stroke-width="0.6"/>
<circle cx="608.9" cy="92.7" r="3.9" fill="#64af46" fill-opacity="0.7" stroke="#5a9a40" stroke-opacity="0.3" stroke-width="0.6"/>
<circle cx="622.3" cy="89.5" r="3.9" fill="#64af46" fill-opacity="0.7" stroke="#5a9a40" stroke-opacity="0.3" stroke-width="0.6"/>
<circle cx="634.5" cy="93.6" r="3.9" fill="#64af46" fill-opacity="0.7" stroke="#5a9a40" stroke-opacity="0.3" stroke-width="0.6"/>
<circle cx="637.1" cy="103.5" r="3.9" fill="#64af46" fill-opacity="0.7" stroke="#5a9a40" stroke-opacity="0.3" stroke-width="0.6"/>
<circle cx="634.9" cy="109.8" r="3.9" fill="#64af46" fill-opacity="0.7" stroke="#5a9a40" stroke-opacity="0.3" stroke-width="0.6"/>
<circle cx="628.6" cy="116.1" r="3.9" fill="#64af46" fill-opacity="0.7" stroke="#5a9a40" stroke-opacity="0.3" stroke-width="0.6"/>
<circle cx="611.2" cy="117.9" r="3.9" fill="#64af46" fill-opacity="0.7" stroke="#5a9a40" stroke-opacity="0.3" stroke-width="0.6"/>
<circle cx="531.1" cy="91.9" r="3.9" fill="#f7910f" fill-opacity="0.7" stroke="#e08a20" stroke-opacity="0.3" stroke-width="0.6"/>
<circle cx="552.7" cy="83.4" r="3.9" fill="#f7910f" fill-opacity="0.7" stroke="#e08a20" stroke-opacity="0.3" stroke-width="0.6"/>
<circle cx="563.5" cy="83.8" r="3.9" fill="#f7910f" fill-opacity="0.7" stroke="#e08a20" stroke-opacity="0.3" stroke-width="0.6"/>
<circle cx="571.2" cy="82.3" r="3.9" fill="#f7910f" fill-opacity="0.7" stroke="#e08a20" stroke-opacity="0.3" stroke-width="0.6"/>
<circle cx="564.0" cy="91.9" r="3.9" fill="#f7910f" fill-opacity="0.7" stroke="#e08a20" stroke-opacity="0.3" stroke-width="0.6"/>
<circle cx="573.0" cy="99.9" r="3.9" fill="#f7910f" fill-opacity="0.7" stroke="#e08a20" stroke-opacity="0.3" stroke-width="0.6"/>
<circle cx="574.8" cy="100.3" r="3.9" fill="#f7910f" fill-opacity="0.7" stroke="#e08a20" stroke-opacity="0.3" stroke-width="0.6"/>
<circle cx="590.1" cy="96.7" r="3.9" fill="#f7910f" fill-opacity="0.7" stroke="#e08a20" stroke-opacity="0.3" stroke-width="0.6"/>
<circle cx="591.9" cy="111.6" r="3.9" fill="#f7910f" fill-opacity="0.7" stroke="#e08a20" stroke-opacity="0.3" stroke-width="0.6"/>
<circle cx="609.8" cy="70.3" r="3.9" fill="#f7910f" fill-opacity="0.7" stroke="#e08a20" stroke-opacity="0.3" stroke-width="0.6"/>
<circle cx="616.6" cy="72.1" r="3.9" fill="#f7910f" fill-opacity="0.7" stroke="#e08a20" stroke-opacity="0.3" stroke-width="0.6"/>
<circle cx="628.6" cy="71.2" r="3.9" fill="#f7910f" fill-opacity="0.7" stroke="#e08a20" stroke-opacity="0.3" stroke-width="0.6"/>
<circle cx="634.5" cy="71.2" r="3.9" fill="#f7910f" fill-opacity="0.7" stroke="#e08a20" stroke-opacity="0.3" stroke-width="0.6"/>
<circle cx="660.4" cy="69.7" r="3.9" fill="#f7910f" fill-opacity="0.7" stroke="#e08a20" stroke-opacity="0.3" stroke-width="0.6"/>
<circle cx="611.2" cy="81.0" r="3.9" fill="#f7910f" fill-opacity="0.7" stroke="#e08a20" stroke-opacity="0.3" stroke-width="0.6"/>
<circle cx="635.8" cy="82.8" r="3.9" fill="#f7910f" fill-opacity="0.7" stroke="#e08a20" stroke-opacity="0.3" stroke-width="0.6"/>
<circle cx="622.3" cy="91.8" r="3.9" fill="#f7910f" fill-opacity="0.7" stroke="#e08a20" stroke-opacity="0.3" stroke-width="0.6"/>
<line x1="540.4" y1="178.8" x2="540.4" y2="175.6" stroke="#2a2a2a" stroke-width="1.1"/>
<line x1="580.3" y1="178.8" x2="580.3" y2="175.6" stroke="#2a2a2a" stroke-width="1.1"/>
<line x1="620.3" y1="178.8" x2="620.3" y2="175.6" stroke="#2a2a2a" stroke-width="1.1"/>
<line x1="660.2" y1="178.8" x2="660.2" y2="175.6" stroke="#2a2a2a" stroke-width="1.1"/>
<line x1="560.4" y1="178.8" x2="560.4" y2="177.0" stroke="#2a2a2a" stroke-width="1.0"/>
<line x1="600.3" y1="178.8" x2="600.3" y2="177.0" stroke="#2a2a2a" stroke-width="1.0"/>
<line x1="640.2" y1="178.8" x2="640.2" y2="177.0" stroke="#2a2a2a" stroke-width="1.0"/>
<line x1="520.4" y1="148.8" x2="523.6" y2="148.8" stroke="#2a2a2a" stroke-width="1.1"/>
<line x1="520.4" y1="118.7" x2="523.6" y2="118.7" stroke="#2a2a2a" stroke-width="1.1"/>
<line x1="520.4" y1="88.7" x2="523.6" y2="88.7" stroke="#2a2a2a" stroke-width="1.1"/>
<line x1="520.4" y1="58.6" x2="523.6" y2="58.6" stroke="#2a2a2a" stroke-width="1.1"/>
<line x1="520.4" y1="163.8" x2="522.2" y2="163.8" stroke="#2a2a2a" stroke-width="1.0"/>
<line x1="520.4" y1="133.7" x2="522.2" y2="133.7" stroke="#2a2a2a" stroke-width="1.0"/>
<line x1="520.4" y1="103.7" x2="522.2" y2="103.7" stroke="#2a2a2a" stroke-width="1.0"/>
<line x1="520.4" y1="73.7" x2="522.2" y2="73.7" stroke="#2a2a2a" stroke-width="1.0"/>
<line x1="520.4" y1="43.6" x2="522.2" y2="43.6" stroke="#2a2a2a" stroke-width="1.0"/>
<text class="tk" x="540.4" y="193.9" text-anchor="middle">10</text>
<text class="tk" x="580.3" y="193.9" text-anchor="middle">20</text>
<text class="tk" x="620.3" y="193.9" text-anchor="middle">30</text>
<text class="tk" x="660.2" y="193.9" text-anchor="middle">40</text>
<rect x="41.8" y="28.6" width="638.4" height="150.2" fill="none" stroke="#2a2a2a" stroke-width="1.6"/>
<line x1="201.3" y1="28.6" x2="201.3" y2="178.8" stroke="#2a2a2a" stroke-width="1.6"/>
<line x1="360.8" y1="28.6" x2="360.8" y2="178.8" stroke="#2a2a2a" stroke-width="1.6"/>
<line x1="520.4" y1="28.6" x2="520.4" y2="178.8" stroke="#2a2a2a" stroke-width="1.6"/>
<text class="b" transform="translate(13.6,103.5) rotate(-90)" text-anchor="middle" style="font-size:15.7px" fill="#111">N concentration (mg/g)</text>
<text class="b" x="272.6" y="211.6" style="font-size:16.5px" fill="#111">Soil available N (mg/kg)</text>
<text x="46.3" y="244.5" style="font-size:18px" fill="#111">e</text>
<text class="st" transform="translate(64.5,241.9) scale(0.97,1)" fill="#1f7f2c" stroke="#1f7f2c" style="font-size:13.8px">Leaf</text>
<text class="st" x="102.4" y="241.9" fill="#1f7f2c" stroke="#1f7f2c" font-style="italic" style="font-size:13.8px">R</text>
<text class="st" x="112.3" y="236.3" fill="#1f7f2c" stroke="#1f7f2c" font-style="italic" style="font-size:9.2px">2</text>
<text class="st" transform="translate(119.7,243.0) scale(1.04,1)" fill="#1f7f2c" stroke="#1f7f2c" fill-opacity="0.85" stroke-opacity="0.5" style="font-size:13.8px">=</text>
<text class="st" x="130.6" y="241.9" fill="#1f7f2c" stroke="#1f7f2c" style="font-size:14.1px">0.3275<tspan dx="1.0" fill-opacity="0.85" stroke-opacity="0.6" style="letter-spacing:-0.2px;font-size:13.0px">**</tspan></text>
<text class="st" transform="translate(64.1,260.1) scale(0.97,1)" fill="#e4913f" stroke="#e4913f" style="font-size:13.8px">Seed</text>
<text class="st" x="98.0" y="260.1" fill="#e4913f" stroke="#e4913f" font-style="italic" style="font-size:13.8px">R</text>
<text class="st" x="107.9" y="254.5" fill="#e4913f" stroke="#e4913f" font-style="italic" style="font-size:9.2px">2</text>
<text transform="translate(115.6,260.1) scale(1.0,1)" fill="#e4913f" style="font-size:14px" fill-opacity="0.9">&lt;</text>
<text class="st" x="126.6" y="260.1" fill="#e4913f" stroke="#e4913f" style="font-size:14.1px">0.0001</text>
<line x1="69.0" y1="339.5" x2="184.2" y2="307.9" stroke="#5b9648" stroke-width="1.5"/>
<circle cx="93.2" cy="298.9" r="3.9" fill="#64af46" fill-opacity="0.7" stroke="#5a9a40" stroke-opacity="0.3" stroke-width="0.6"/>
<circle cx="98.6" cy="309.3" r="3.9" fill="#64af46" fill-opacity="0.7" stroke="#5a9a40" stroke-opacity="0.3" stroke-width="0.6"/>
<circle cx="110.3" cy="312.9" r="3.9" fill="#64af46" fill-opacity="0.7" stroke="#5a9a40" stroke-opacity="0.3" stroke-width="0.6"/>
<circle cx="73.5" cy="334.5" r="3.9" fill="#64af46" fill-opacity="0.7" stroke="#5a9a40" stroke-opacity="0.3" stroke-width="0.6"/>
<circle cx="68.1" cy="345.3" r="3.9" fill="#64af46" fill-opacity="0.7" stroke="#5a9a40" stroke-opacity="0.3" stroke-width="0.6"/>
<circle cx="74.4" cy="339.9" r="3.9" fill="#64af46" fill-opacity="0.7" stroke="#5a9a40" stroke-opacity="0.3" stroke-width="0.6"/>
<circle cx="76.2" cy="345.3" r="3.9" fill="#64af46" fill-opacity="0.7" stroke="#5a9a40" stroke-opacity="0.3" stroke-width="0.6"/>
<circle cx="74.4" cy="351.6" r="3.9" fill="#64af46" fill-opacity="0.7" stroke="#5a9a40" stroke-opacity="0.3" stroke-width="0.6"/>
<circle cx="80.7" cy="338.1" r="3.9" fill="#64af46" fill-opacity="0.7" stroke="#5a9a40" stroke-opacity="0.3" stroke-width="0.6"/>
<circle cx="82.4" cy="346.2" r="3.9" fill="#64af46" fill-opacity="0.7" stroke="#5a9a40" stroke-opacity="0.3" stroke-width="0.6"/>
<circle cx="86.0" cy="339.9" r="3.9" fill="#64af46" fill-opacity="0.7" stroke="#5a9a40" stroke-opacity="0.3" stroke-width="0.6"/>
<circle cx="90.5" cy="340.8" r="3.9" fill="#64af46" fill-opacity="0.7" stroke="#5a9a40" stroke-opacity="0.3" stroke-width="0.6"/>
<circle cx="121.3" cy="334.5" r="3.9" fill="#64af46" fill-opacity="0.7" stroke="#5a9a40" stroke-opacity="0.3" stroke-width="0.6"/>
<circle cx="138.7" cy="320.4" r="3.9" fill="#64af46" fill-opacity="0.7" stroke="#5a9a40" stroke-opacity="0.3" stroke-width="0.6"/>
<circle cx="150.9" cy="308.4" r="3.9" fill="#64af46" fill-opacity="0.7" stroke="#5a9a40" stroke-opacity="0.3" stroke-width="0.6"/>
<circle cx="180.0" cy="318.3" r="3.9" fill="#64af46" fill-opacity="0.7" stroke="#5a9a40" stroke-opacity="0.3" stroke-width="0.6"/>
<circle cx="184.2" cy="323.7" r="3.9" fill="#64af46" fill-opacity="0.7" stroke="#5a9a40" stroke-opacity="0.3" stroke-width="0.6"/>
<circle cx="72.2" cy="267.6" r="3.9" fill="#f7910f" fill-opacity="0.7" stroke="#e08a20" stroke-opacity="0.3" stroke-width="0.6"/>
<circle cx="74.4" cy="304.8" r="3.9" fill="#f7910f" fill-opacity="0.7" stroke="#e08a20" stroke-opacity="0.3" stroke-width="0.6"/>
<circle cx="69.0" cy="310.2" r="3.9" fill="#f7910f" fill-opacity="0.7" stroke="#e08a20" stroke-opacity="0.3" stroke-width="0.6"/>
<circle cx="73.5" cy="312.0" r="3.9" fill="#f7910f" fill-opacity="0.7" stroke="#e08a20" stroke-opacity="0.3" stroke-width="0.6"/>
<circle cx="75.3" cy="316.5" r="3.9" fill="#f7910f" fill-opacity="0.7" stroke="#e08a20" stroke-opacity="0.3" stroke-width="0.6"/>
<circle cx="73.5" cy="320.1" r="3.9" fill="#f7910f" fill-opacity="0.7" stroke="#e08a20" stroke-opacity="0.3" stroke-width="0.6"/>
<circle cx="81.6" cy="312.9" r="3.9" fill="#f7910f" fill-opacity="0.7" stroke="#e08a20" stroke-opacity="0.3" stroke-width="0.6"/>
<circle cx="83.3" cy="318.3" r="3.9" fill="#f7910f" fill-opacity="0.7" stroke="#e08a20" stroke-opacity="0.3" stroke-width="0.6"/>
<circle cx="86.9" cy="318.3" r="3.9" fill="#f7910f" fill-opacity="0.7" stroke="#e08a20" stroke-opacity="0.3" stroke-width="0.6"/>
<circle cx="94.1" cy="314.7" r="3.9" fill="#f7910f" fill-opacity="0.7" stroke="#e08a20" stroke-opacity="0.3" stroke-width="0.6"/>
<circle cx="95.0" cy="320.1" r="3.9" fill="#f7910f" fill-opacity="0.7" stroke="#e08a20" stroke-opacity="0.3" stroke-width="0.6"/>
<circle cx="101.3" cy="309.3" r="3.9" fill="#f7910f" fill-opacity="0.7" stroke="#e08a20" stroke-opacity="0.3" stroke-width="0.6"/>
<circle cx="104.0" cy="312.0" r="3.9" fill="#f7910f" fill-opacity="0.7" stroke="#e08a20" stroke-opacity="0.3" stroke-width="0.6"/>
<circle cx="106.7" cy="315.6" r="3.9" fill="#f7910f" fill-opacity="0.7" stroke="#e08a20" stroke-opacity="0.3" stroke-width="0.6"/>
<circle cx="110.3" cy="306.6" r="3.9" fill="#f7910f" fill-opacity="0.7" stroke="#e08a20" stroke-opacity="0.3" stroke-width="0.6"/>
<circle cx="107.6" cy="318.3" r="3.9" fill="#f7910f" fill-opacity="0.7" stroke="#e08a20" stroke-opacity="0.3" stroke-width="0.6"/>
<circle cx="68.6" cy="330.0" r="3.9" fill="#f7910f" fill-opacity="0.7" stroke="#e08a20" stroke-opacity="0.3" stroke-width="0.6"/>
<circle cx="84.2" cy="330.5" r="3.9" fill="#f7910f" fill-opacity="0.7" stroke="#e08a20" stroke-opacity="0.3" stroke-width="0.6"/>
<circle cx="121.3" cy="310.7" r="3.9" fill="#f7910f" fill-opacity="0.7" stroke="#e08a20" stroke-opacity="0.3" stroke-width="0.6"/>
<circle cx="138.7" cy="314.3" r="3.9" fill="#f7910f" fill-opacity="0.7" stroke="#e08a20" stroke-opacity="0.3" stroke-width="0.6"/>
<circle cx="150.9" cy="317.9" r="3.9" fill="#f7910f" fill-opacity="0.7" stroke="#e08a20" stroke-opacity="0.3" stroke-width="0.6"/>
<circle cx="184.2" cy="309.7" r="3.9" fill="#f7910f" fill-opacity="0.7" stroke="#e08a20" stroke-opacity="0.3" stroke-width="0.6"/>
<line x1="78.6" y1="376.6" x2="78.6" y2="373.6" stroke="#2a2a2a" stroke-width="1.1"/>
<line x1="114.9" y1="376.6" x2="114.9" y2="373.6" stroke="#2a2a2a" stroke-width="1.1"/>
<line x1="151.2" y1="376.6" x2="151.2" y2="373.6" stroke="#2a2a2a" stroke-width="1.1"/>
<line x1="187.5" y1="376.6" x2="187.5" y2="373.6" stroke="#2a2a2a" stroke-width="1.1"/>
<line x1="60.4" y1="376.6" x2="60.4" y2="375.0" stroke="#2a2a2a" stroke-width="1.0"/>
<line x1="96.7" y1="376.6" x2="96.7" y2="375.0" stroke="#2a2a2a" stroke-width="1.0"/>
<line x1="133.0" y1="376.6" x2="133.0" y2="375.0" stroke="#2a2a2a" stroke-width="1.0"/>
<line x1="169.3" y1="376.6" x2="169.3" y2="375.0" stroke="#2a2a2a" stroke-width="1.0"/>
<line x1="42.3" y1="335.6" x2="45.3" y2="335.6" stroke="#2a2a2a" stroke-width="1.1"/>
<line x1="42.3" y1="291.9" x2="45.3" y2="291.9" stroke="#2a2a2a" stroke-width="1.1"/>
<line x1="42.3" y1="248.2" x2="45.3" y2="248.2" stroke="#2a2a2a" stroke-width="1.1"/>
<line x1="42.3" y1="357.4" x2="43.9" y2="357.4" stroke="#2a2a2a" stroke-width="1.0"/>
<line x1="42.3" y1="313.7" x2="43.9" y2="313.7" stroke="#2a2a2a" stroke-width="1.0"/>
<line x1="42.3" y1="270.1" x2="43.9" y2="270.1" stroke="#2a2a2a" stroke-width="1.0"/>
<text class="tk" x="42.3" y="391.0" text-anchor="middle">0</text>
<text class="tk" x="78.6" y="391.0" text-anchor="middle">5</text>
<text class="tk" x="114.9" y="391.0" text-anchor="middle">10</text>
<text class="tk" x="151.2" y="391.0" text-anchor="middle">15</text>
<text class="tk" x="187.5" y="391.0" text-anchor="middle">20</text>
<text class="tk" x="38.9" y="340.5" text-anchor="end">2</text>
<text class="tk" x="38.9" y="296.8" text-anchor="end">4</text>
<text class="tk" x="38.9" y="253.1" text-anchor="end">6</text>
<text x="206.0" y="244.5" style="font-size:18px" fill="#111">f</text>
<text class="st" transform="translate(224.4,241.9) scale(0.97,1)" fill="#1f7f2c" stroke="#1f7f2c" style="font-size:13.8px">Leaf</text>
<text class="st" x="256.8" y="241.9" fill="#1f7f2c" stroke="#1f7f2c" font-style="italic" style="font-size:13.8px">R</text>
<text class="st" x="266.7" y="236.3" fill="#1f7f2c" stroke="#1f7f2c" font-style="italic" style="font-size:9.2px">2</text>
<text class="st" transform="translate(274.5,243.0) scale(1.04,1)" fill="#1f7f2c" stroke="#1f7f2c" fill-opacity="0.85" stroke-opacity="0.5" style="font-size:13.8px">=</text>
<text class="st" x="285.1" y="241.9" fill="#1f7f2c" stroke="#1f7f2c" style="font-size:14.1px">0.3887<tspan dx="1.0" fill-opacity="0.85" stroke-opacity="0.6" style="letter-spacing:-0.2px;font-size:13.0px">**</tspan></text>
<text class="st" transform="translate(224.1,260.1) scale(0.97,1)" fill="#e4913f" stroke="#e4913f" style="font-size:13.8px">Seed</text>
<text class="st" x="257.9" y="260.1" fill="#e4913f" stroke="#e4913f" font-style="italic" style="font-size:13.8px">R</text>
<text class="st" x="267.8" y="254.5" fill="#e4913f" stroke="#e4913f" font-style="italic" style="font-size:9.2px">2</text>
<text class="st" transform="translate(275.2,261.2) scale(1.04,1)" fill="#e4913f" stroke="#e4913f" fill-opacity="0.85" stroke-opacity="0.5" style="font-size:13.8px">=</text>
<text class="st" x="285.4" y="260.1" fill="#e4913f" stroke="#e4913f" style="font-size:14.1px">0.2264<tspan dx="1.0" fill-opacity="0.85" stroke-opacity="0.6" style="letter-spacing:-0.2px;font-size:13.0px">*</tspan></text>
<line x1="226.5" y1="338.5" x2="343.6" y2="303.9" stroke="#5b9648" stroke-width="1.5"/>
<line x1="226.5" y1="318.8" x2="343.6" y2="303.4" stroke="#e89a30" stroke-width="1.5"/>
<circle cx="252.6" cy="299.3" r="3.9" fill="#64af46" fill-opacity="0.7" stroke="#5a9a40" stroke-opacity="0.3" stroke-width="0.6"/>
<circle cx="263.2" cy="303.9" r="3.9" fill="#64af46" fill-opacity="0.7" stroke="#5a9a40" stroke-opacity="0.3" stroke-width="0.6"/>
<circle cx="254.2" cy="309.9" r="3.9" fill="#64af46" fill-opacity="0.7" stroke="#5a9a40" stroke-opacity="0.3" stroke-width="0.6"/>
<circle cx="269.8" cy="318.1" r="3.9" fill="#64af46" fill-opacity="0.7" stroke="#5a9a40" stroke-opacity="0.3" stroke-width="0.6"/>
<circle cx="231.4" cy="331.1" r="3.9" fill="#64af46" fill-opacity="0.7" stroke="#5a9a40" stroke-opacity="0.3" stroke-width="0.6"/>
<circle cx="238.7" cy="329.5" r="3.9" fill="#64af46" fill-opacity="0.7" stroke="#5a9a40" stroke-opacity="0.3" stroke-width="0.6"/>
<circle cx="250.2" cy="336.0" r="3.9" fill="#64af46" fill-opacity="0.7" stroke="#5a9a40" stroke-opacity="0.3" stroke-width="0.6"/>
<circle cx="243.6" cy="338.5" r="3.9" fill="#64af46" fill-opacity="0.7" stroke="#5a9a40" stroke-opacity="0.3" stroke-width="0.6"/>
<circle cx="241.2" cy="340.1" r="3.9" fill="#64af46" fill-opacity="0.7" stroke="#5a9a40" stroke-opacity="0.3" stroke-width="0.6"/>
<circle cx="228.1" cy="341.7" r="3.9" fill="#64af46" fill-opacity="0.7" stroke="#5a9a40" stroke-opacity="0.3" stroke-width="0.6"/>
<circle cx="233.8" cy="345.0" r="3.9" fill="#64af46" fill-opacity="0.7" stroke="#5a9a40" stroke-opacity="0.3" stroke-width="0.6"/>
<circle cx="232.2" cy="350.7" r="3.9" fill="#64af46" fill-opacity="0.7" stroke="#5a9a40" stroke-opacity="0.3" stroke-width="0.6"/>
<circle cx="280.7" cy="335.6" r="3.9" fill="#64af46" fill-opacity="0.7" stroke="#5a9a40" stroke-opacity="0.3" stroke-width="0.6"/>
<circle cx="297.9" cy="315.7" r="3.9" fill="#64af46" fill-opacity="0.7" stroke="#5a9a40" stroke-opacity="0.3" stroke-width="0.6"/>
<circle cx="310.1" cy="310.8" r="3.9" fill="#64af46" fill-opacity="0.7" stroke="#5a9a40" stroke-opacity="0.3" stroke-width="0.6"/>
<circle cx="339.6" cy="314.9" r="3.9" fill="#64af46" fill-opacity="0.7" stroke="#5a9a40" stroke-opacity="0.3" stroke-width="0.6"/>
<circle cx="343.6" cy="312.7" r="3.9" fill="#64af46" fill-opacity="0.7" stroke="#5a9a40" stroke-opacity="0.3" stroke-width="0.6"/>
<circle cx="231.4" cy="300.6" r="3.9" fill="#f7910f" fill-opacity="0.7" stroke="#e08a20" stroke-opacity="0.3" stroke-width="0.6"/>
<circle cx="243.6" cy="305.8" r="3.9" fill="#f7910f" fill-opacity="0.7" stroke="#e08a20" stroke-opacity="0.3" stroke-width="0.6"/>
<circle cx="227.3" cy="313.2" r="3.9" fill="#f7910f" fill-opacity="0.7" stroke="#e08a20" stroke-opacity="0.3" stroke-width="0.6"/>
<circle cx="233.8" cy="318.1" r="3.9" fill="#f7910f" fill-opacity="0.7" stroke="#e08a20" stroke-opacity="0.3" stroke-width="0.6"/>
<circle cx="228.9" cy="323.0" r="3.9" fill="#f7910f" fill-opacity="0.7" stroke="#e08a20" stroke-opacity="0.3" stroke-width="0.6"/>
<circle cx="233.0" cy="326.2" r="3.9" fill="#f7910f" fill-opacity="0.7" stroke="#e08a20" stroke-opacity="0.3" stroke-width="0.6"/>
<circle cx="237.1" cy="321.3" r="3.9" fill="#f7910f" fill-opacity="0.7" stroke="#e08a20" stroke-opacity="0.3" stroke-width="0.6"/>
<circle cx="241.2" cy="320.5" r="3.9" fill="#f7910f" fill-opacity="0.7" stroke="#e08a20" stroke-opacity="0.3" stroke-width="0.6"/>
<circle cx="244.4" cy="323.8" r="3.9" fill="#f7910f" fill-opacity="0.7" stroke="#e08a20" stroke-opacity="0.3" stroke-width="0.6"/>
<circle cx="245.3" cy="317.2" r="3.9" fill="#f7910f" fill-opacity="0.7" stroke="#e08a20" stroke-opacity="0.3" stroke-width="0.6"/>
<circle cx="252.6" cy="317.2" r="3.9" fill="#f7910f" fill-opacity="0.7" stroke="#e08a20" stroke-opacity="0.3" stroke-width="0.6"/>
<circle cx="232.2" cy="329.5" r="3.9" fill="#f7910f" fill-opacity="0.7" stroke="#e08a20" stroke-opacity="0.3" stroke-width="0.6"/>
<circle cx="254.2" cy="304.2" r="3.9" fill="#f7910f" fill-opacity="0.7" stroke="#e08a20" stroke-opacity="0.3" stroke-width="0.6"/>
<circle cx="258.3" cy="309.1" r="3.9" fill="#f7910f" fill-opacity="0.7" stroke="#e08a20" stroke-opacity="0.3" stroke-width="0.6"/>
<circle cx="268.9" cy="309.9" r="3.9" fill="#f7910f" fill-opacity="0.7" stroke="#e08a20" stroke-opacity="0.3" stroke-width="0.6"/>
<circle cx="279.6" cy="311.0" r="3.9" fill="#f7910f" fill-opacity="0.7" stroke="#e08a20" stroke-opacity="0.3" stroke-width="0.6"/>
<circle cx="297.9" cy="314.9" r="3.9" fill="#f7910f" fill-opacity="0.7" stroke="#e08a20" stroke-opacity="0.3" stroke-width="0.6"/>
<circle cx="310.1" cy="309.9" r="3.9" fill="#f7910f" fill-opacity="0.7" stroke="#e08a20" stroke-opacity="0.3" stroke-width="0.6"/>
<circle cx="344.0" cy="301.8" r="3.9" fill="#f7910f" fill-opacity="0.7" stroke="#e08a20" stroke-opacity="0.3" stroke-width="0.6"/>
<line x1="238.3" y1="376.6" x2="238.3" y2="373.6" stroke="#2a2a2a" stroke-width="1.1"/>
<line x1="274.5" y1="376.6" x2="274.5" y2="373.6" stroke="#2a2a2a" stroke-width="1.1"/>
<line x1="310.8" y1="376.6" x2="310.8" y2="373.6" stroke="#2a2a2a" stroke-width="1.1"/>
<line x1="347.1" y1="376.6" x2="347.1" y2="373.6" stroke="#2a2a2a" stroke-width="1.1"/>
<line x1="220.1" y1="376.6" x2="220.1" y2="375.0" stroke="#2a2a2a" stroke-width="1.0"/>
<line x1="256.4" y1="376.6" x2="256.4" y2="375.0" stroke="#2a2a2a" stroke-width="1.0"/>
<line x1="292.7" y1="376.6" x2="292.7" y2="375.0" stroke="#2a2a2a" stroke-width="1.0"/>
<line x1="329.0" y1="376.6" x2="329.0" y2="375.0" stroke="#2a2a2a" stroke-width="1.0"/>
<line x1="202.0" y1="335.6" x2="205.0" y2="335.6" stroke="#2a2a2a" stroke-width="1.1"/>
<line x1="202.0" y1="291.9" x2="205.0" y2="291.9" stroke="#2a2a2a" stroke-width="1.1"/>
<line x1="202.0" y1="248.2" x2="205.0" y2="248.2" stroke="#2a2a2a" stroke-width="1.1"/>
<line x1="202.0" y1="357.4" x2="203.6" y2="357.4" stroke="#2a2a2a" stroke-width="1.0"/>
<line x1="202.0" y1="313.7" x2="203.6" y2="313.7" stroke="#2a2a2a" stroke-width="1.0"/>
<line x1="202.0" y1="270.1" x2="203.6" y2="270.1" stroke="#2a2a2a" stroke-width="1.0"/>
<text class="tk" x="202.0" y="391.0" text-anchor="middle">0</text>
<text class="tk" x="238.3" y="391.0" text-anchor="middle">5</text>
<text class="tk" x="274.5" y="391.0" text-anchor="middle">10</text>
<text class="tk" x="310.8" y="391.0" text-anchor="middle">15</text>
<text class="tk" x="347.1" y="391.0" text-anchor="middle">20</text>
<text x="365.6" y="244.5" style="font-size:18px" fill="#111">g</text>
<text class="st" transform="translate(384.5,241.9) scale(0.97,1)" fill="#1f7f2c" stroke="#1f7f2c" style="font-size:13.8px">Leaf</text>
<text class="st" x="417.5" y="241.9" fill="#1f7f2c" stroke="#1f7f2c" font-style="italic" style="font-size:13.8px">R</text>
<text class="st" x="427.4" y="236.3" fill="#1f7f2c" stroke="#1f7f2c" font-style="italic" style="font-size:9.2px">2</text>
<text class="st" transform="translate(434.8,243.0) scale(1.04,1)" fill="#1f7f2c" stroke="#1f7f2c" fill-opacity="0.85" stroke-opacity="0.5" style="font-size:13.8px">=</text>
<text class="st" x="445.4" y="241.9" fill="#1f7f2c" stroke="#1f7f2c" style="font-size:14.1px">0.2599<tspan dx="1.0" fill-opacity="0.85" stroke-opacity="0.6" style="letter-spacing:-0.2px;font-size:13.0px">*</tspan></text>
<text class="st" transform="translate(384.1,260.1) scale(0.97,1)" fill="#e4913f" stroke="#e4913f" style="font-size:13.8px">Seed</text>
<text class="st" x="419.0" y="260.1" fill="#e4913f" stroke="#e4913f" font-style="italic" style="font-size:13.8px">R</text>
<text class="st" x="428.9" y="254.5" fill="#e4913f" stroke="#e4913f" font-style="italic" style="font-size:9.2px">2</text>
<text class="st" transform="translate(435.6,261.2) scale(1.04,1)" fill="#e4913f" stroke="#e4913f" fill-opacity="0.85" stroke-opacity="0.5" style="font-size:13.8px">=</text>
<text class="st" x="446.2" y="260.1" fill="#e4913f" stroke="#e4913f" style="font-size:14.1px">0.3198<tspan dx="1.0" fill-opacity="0.85" stroke-opacity="0.6" style="letter-spacing:-0.2px;font-size:13.0px">**</tspan></text>
<line x1="388.0" y1="324.5" x2="504.3" y2="273.1" stroke="#5b9648" stroke-width="1.5"/>
<line x1="388.0" y1="293.1" x2="503.4" y2="258.7" stroke="#e89a30" stroke-width="1.5"/>
<circle cx="423.0" cy="246.7" r="3.9" fill="#64af46" fill-opacity="0.7" stroke="#5a9a40" stroke-opacity="0.3" stroke-width="0.6"/>
<circle cx="414.0" cy="273.6" r="3.9" fill="#64af46" fill-opacity="0.7" stroke="#5a9a40" stroke-opacity="0.3" stroke-width="0.6"/>
<circle cx="426.6" cy="273.1" r="3.9" fill="#64af46" fill-opacity="0.7" stroke="#5a9a40" stroke-opacity="0.3" stroke-width="0.6"/>
<circle cx="399.7" cy="288.9" r="3.9" fill="#64af46" fill-opacity="0.7" stroke="#5a9a40" stroke-opacity="0.3" stroke-width="0.6"/>
<circle cx="418.9" cy="288.9" r="3.9" fill="#64af46" fill-opacity="0.7" stroke="#5a9a40" stroke-opacity="0.3" stroke-width="0.6"/>
<circle cx="412.1" cy="310.6" r="3.9" fill="#64af46" fill-opacity="0.7" stroke="#5a9a40" stroke-opacity="0.3" stroke-width="0.6"/>
<circle cx="429.9" cy="312.4" r="3.9" fill="#64af46" fill-opacity="0.7" stroke="#5a9a40" stroke-opacity="0.3" stroke-width="0.6"/>
<circle cx="439.1" cy="313.4" r="3.9" fill="#64af46" fill-opacity="0.7" stroke="#5a9a40" stroke-opacity="0.3" stroke-width="0.6"/>
<circle cx="390.8" cy="326.2" r="3.9" fill="#64af46" fill-opacity="0.7" stroke="#5a9a40" stroke-opacity="0.3" stroke-width="0.6"/>
<circle cx="396.5" cy="323.4" r="3.9" fill="#64af46" fill-opacity="0.7" stroke="#5a9a40" stroke-opacity="0.3" stroke-width="0.6"/>
<circle cx="400.8" cy="324.8" r="3.9" fill="#64af46" fill-opacity="0.7" stroke="#5a9a40" stroke-opacity="0.3" stroke-width="0.6"/>
<circle cx="403.6" cy="328.4" r="3.9" fill="#64af46" fill-opacity="0.7" stroke="#5a9a40" stroke-opacity="0.3" stroke-width="0.6"/>
<circle cx="409.3" cy="330.1" r="3.9" fill="#64af46" fill-opacity="0.7" stroke="#5a9a40" stroke-opacity="0.3" stroke-width="0.6"/>
<circle cx="404.3" cy="331.2" r="3.9" fill="#64af46" fill-opacity="0.7" stroke="#5a9a40" stroke-opacity="0.3" stroke-width="0.6"/>
<circle cx="393.0" cy="331.2" r="3.9" fill="#64af46" fill-opacity="0.7" stroke="#5a9a40" stroke-opacity="0.3" stroke-width="0.6"/>
<circle cx="388.0" cy="335.2" r="3.9" fill="#64af46" fill-opacity="0.7" stroke="#5a9a40" stroke-opacity="0.3" stroke-width="0.6"/>
<circle cx="393.7" cy="334.0" r="3.9" fill="#64af46" fill-opacity="0.7" stroke="#5a9a40" stroke-opacity="0.3" stroke-width="0.6"/>
<circle cx="391.5" cy="342.8" r="3.9" fill="#64af46" fill-opacity="0.7" stroke="#5a9a40" stroke-opacity="0.3" stroke-width="0.6"/>
<circle cx="457.5" cy="290.8" r="3.9" fill="#64af46" fill-opacity="0.7" stroke="#5a9a40" stroke-opacity="0.3" stroke-width="0.6"/>
<circle cx="469.5" cy="305.2" r="3.9" fill="#64af46" fill-opacity="0.7" stroke="#5a9a40" stroke-opacity="0.3" stroke-width="0.6"/>
<circle cx="503.4" cy="290.4" r="3.9" fill="#64af46" fill-opacity="0.7" stroke="#5a9a40" stroke-opacity="0.3" stroke-width="0.6"/>
<circle cx="413.5" cy="257.5" r="3.9" fill="#f7910f" fill-opacity="0.7" stroke="#e08a20" stroke-opacity="0.3" stroke-width="0.6"/>
<circle cx="425.7" cy="260.5" r="3.9" fill="#f7910f" fill-opacity="0.7" stroke="#e08a20" stroke-opacity="0.3" stroke-width="0.6"/>
<circle cx="391.6" cy="267.0" r="3.9" fill="#f7910f" fill-opacity="0.7" stroke="#e08a20" stroke-opacity="0.3" stroke-width="0.6"/>
<circle cx="396.1" cy="267.0" r="3.9" fill="#f7910f" fill-opacity="0.7" stroke="#e08a20" stroke-opacity="0.3" stroke-width="0.6"/>
<circle cx="403.2" cy="274.2" r="3.9" fill="#f7910f" fill-opacity="0.7" stroke="#e08a20" stroke-opacity="0.3" stroke-width="0.6"/>
<circle cx="393.4" cy="282.6" r="3.9" fill="#f7910f" fill-opacity="0.7" stroke="#e08a20" stroke-opacity="0.3" stroke-width="0.6"/>
<circle cx="404.1" cy="283.5" r="3.9" fill="#f7910f" fill-opacity="0.7" stroke="#e08a20" stroke-opacity="0.3" stroke-width="0.6"/>
<circle cx="411.3" cy="284.4" r="3.9" fill="#f7910f" fill-opacity="0.7" stroke="#e08a20" stroke-opacity="0.3" stroke-width="0.6"/>
<circle cx="418.5" cy="285.3" r="3.9" fill="#f7910f" fill-opacity="0.7" stroke="#e08a20" stroke-opacity="0.3" stroke-width="0.6"/>
<circle cx="404.1" cy="288.0" r="3.9" fill="#f7910f" fill-opacity="0.7" stroke="#e08a20" stroke-opacity="0.3" stroke-width="0.6"/>
<circle cx="438.3" cy="279.6" r="3.9" fill="#f7910f" fill-opacity="0.7" stroke="#e08a20" stroke-opacity="0.3" stroke-width="0.6"/>
<circle cx="388.7" cy="295.0" r="3.9" fill="#f7910f" fill-opacity="0.7" stroke="#e08a20" stroke-opacity="0.3" stroke-width="0.6"/>
<circle cx="393.0" cy="299.2" r="3.9" fill="#f7910f" fill-opacity="0.7" stroke="#e08a20" stroke-opacity="0.3" stroke-width="0.6"/>
<circle cx="395.1" cy="301.4" r="3.9" fill="#f7910f" fill-opacity="0.7" stroke="#e08a20" stroke-opacity="0.3" stroke-width="0.6"/>
<circle cx="401.5" cy="305.3" r="3.9" fill="#f7910f" fill-opacity="0.7" stroke="#e08a20" stroke-opacity="0.3" stroke-width="0.6"/>
<circle cx="409.0" cy="303.5" r="3.9" fill="#f7910f" fill-opacity="0.7" stroke="#e08a20" stroke-opacity="0.3" stroke-width="0.6"/>
<circle cx="393.4" cy="308.5" r="3.9" fill="#f7910f" fill-opacity="0.7" stroke="#e08a20" stroke-opacity="0.3" stroke-width="0.6"/>
<circle cx="388.0" cy="313.4" r="3.9" fill="#f7910f" fill-opacity="0.7" stroke="#e08a20" stroke-opacity="0.3" stroke-width="0.6"/>
<circle cx="390.8" cy="316.3" r="3.9" fill="#f7910f" fill-opacity="0.7" stroke="#e08a20" stroke-opacity="0.3" stroke-width="0.6"/>
<circle cx="457.5" cy="275.5" r="3.9" fill="#f7910f" fill-opacity="0.7" stroke="#e08a20" stroke-opacity="0.3" stroke-width="0.6"/>
<circle cx="470.1" cy="288.1" r="3.9" fill="#f7910f" fill-opacity="0.7" stroke="#e08a20" stroke-opacity="0.3" stroke-width="0.6"/>
<circle cx="498.9" cy="258.7" r="3.9" fill="#f7910f" fill-opacity="0.7" stroke="#e08a20" stroke-opacity="0.3" stroke-width="0.6"/>
<circle cx="503.4" cy="255.7" r="3.9" fill="#f7910f" fill-opacity="0.7" stroke="#e08a20" stroke-opacity="0.3" stroke-width="0.6"/>
<line x1="397.9" y1="376.6" x2="397.9" y2="373.6" stroke="#2a2a2a" stroke-width="1.1"/>
<line x1="434.1" y1="376.6" x2="434.1" y2="373.6" stroke="#2a2a2a" stroke-width="1.1"/>
<line x1="470.4" y1="376.6" x2="470.4" y2="373.6" stroke="#2a2a2a" stroke-width="1.1"/>
<line x1="506.6" y1="376.6" x2="506.6" y2="373.6" stroke="#2a2a2a" stroke-width="1.1"/>
<line x1="379.7" y1="376.6" x2="379.7" y2="375.0" stroke="#2a2a2a" stroke-width="1.0"/>
<line x1="416.0" y1="376.6" x2="416.0" y2="375.0" stroke="#2a2a2a" stroke-width="1.0"/>
<line x1="452.2" y1="376.6" x2="452.2" y2="375.0" stroke="#2a2a2a" stroke-width="1.0"/>
<line x1="488.5" y1="376.6" x2="488.5" y2="375.0" stroke="#2a2a2a" stroke-width="1.0"/>
<line x1="361.6" y1="335.6" x2="364.6" y2="335.6" stroke="#2a2a2a" stroke-width="1.1"/>
<line x1="361.6" y1="291.9" x2="364.6" y2="291.9" stroke="#2a2a2a" stroke-width="1.1"/>
<line x1="361.6" y1="248.2" x2="364.6" y2="248.2" stroke="#2a2a2a" stroke-width="1.1"/>
<line x1="361.6" y1="357.4" x2="363.2" y2="357.4" stroke="#2a2a2a" stroke-width="1.0"/>
<line x1="361.6" y1="313.7" x2="363.2" y2="313.7" stroke="#2a2a2a" stroke-width="1.0"/>
<line x1="361.6" y1="270.1" x2="363.2" y2="270.1" stroke="#2a2a2a" stroke-width="1.0"/>
<text class="tk" x="361.6" y="391.0" text-anchor="middle">0</text>
<text class="tk" x="397.9" y="391.0" text-anchor="middle">5</text>
<text class="tk" x="434.1" y="391.0" text-anchor="middle">10</text>
<text class="tk" x="470.4" y="391.0" text-anchor="middle">15</text>
<text class="tk" x="506.6" y="391.0" text-anchor="middle">20</text>
<text x="525.1" y="244.5" style="font-size:18px" fill="#111">h</text>
<text class="st" transform="translate(544.5,241.9) scale(0.97,1)" fill="#1f7f2c" stroke="#1f7f2c" style="font-size:13.8px">Leaf</text>
<text class="st" x="577.5" y="241.9" fill="#1f7f2c" stroke="#1f7f2c" font-style="italic" style="font-size:13.8px">R</text>
<text class="st" x="587.4" y="236.3" fill="#1f7f2c" stroke="#1f7f2c" font-style="italic" style="font-size:9.2px">2</text>
<text class="st" transform="translate(595.2,243.0) scale(1.04,1)" fill="#1f7f2c" stroke="#1f7f2c" fill-opacity="0.85" stroke-opacity="0.5" style="font-size:13.8px">=</text>
<text class="st" x="605.8" y="241.9" fill="#1f7f2c" stroke="#1f7f2c" style="font-size:14.1px">0.6760<tspan dx="1.0" fill-opacity="0.85" stroke-opacity="0.6" style="letter-spacing:-0.2px;font-size:13.0px">***</tspan></text>
<text class="st" transform="translate(544.1,260.1) scale(0.97,1)" fill="#e4913f" stroke="#e4913f" style="font-size:13.8px">Seed</text>
<text class="st" x="578.3" y="260.1" fill="#e4913f" stroke="#e4913f" font-style="italic" style="font-size:13.8px">R</text>
<text class="st" x="588.2" y="254.5" fill="#e4913f" stroke="#e4913f" font-style="italic" style="font-size:9.2px">2</text>
<text class="st" transform="translate(595.6,261.2) scale(1.04,1)" fill="#e4913f" stroke="#e4913f" fill-opacity="0.85" stroke-opacity="0.5" style="font-size:13.8px">=</text>
<text class="st" x="606.2" y="260.1" fill="#e4913f" stroke="#e4913f" style="font-size:14.1px">0.5124<tspan dx="1.0" fill-opacity="0.85" stroke-opacity="0.6" style="letter-spacing:-0.2px;font-size:13.0px">***</tspan></text>
<line x1="547.1" y1="347.2" x2="663.0" y2="272.9" stroke="#5b9648" stroke-width="1.5"/>
<line x1="567.7" y1="318.4" x2="663.0" y2="296.9" stroke="#e89a30" stroke-width="1.5"/>
<circle cx="578.5" cy="289.7" r="3.9" fill="#64af46" fill-opacity="0.7" stroke="#5a9a40" stroke-opacity="0.3" stroke-width="0.6"/>
<circle cx="585.7" cy="304.6" r="3.9" fill="#64af46" fill-opacity="0.7" stroke="#5a9a40" stroke-opacity="0.3" stroke-width="0.6"/>
<circle cx="574.0" cy="312.1" r="3.9" fill="#64af46" fill-opacity="0.7" stroke="#5a9a40" stroke-opacity="0.3" stroke-width="0.6"/>
<circle cx="568.6" cy="333.7" r="3.9" fill="#64af46" fill-opacity="0.7" stroke="#5a9a40" stroke-opacity="0.3" stroke-width="0.6"/>
<circle cx="553.4" cy="336.4" r="3.9" fill="#64af46" fill-opacity="0.7" stroke="#5a9a40" stroke-opacity="0.3" stroke-width="0.6"/>
<circle cx="550.7" cy="340.9" r="3.9" fill="#64af46" fill-opacity="0.7" stroke="#5a9a40" stroke-opacity="0.3" stroke-width="0.6"/>
<circle cx="557.0" cy="340.0" r="3.9" fill="#64af46" fill-opacity="0.7" stroke="#5a9a40" stroke-opacity="0.3" stroke-width="0.6"/>
<circle cx="564.1" cy="343.6" r="3.9" fill="#64af46" fill-opacity="0.7" stroke="#5a9a40" stroke-opacity="0.3" stroke-width="0.6"/>
<circle cx="558.8" cy="346.3" r="3.9" fill="#64af46" fill-opacity="0.7" stroke="#5a9a40" stroke-opacity="0.3" stroke-width="0.6"/>
<circle cx="553.4" cy="349.9" r="3.9" fill="#64af46" fill-opacity="0.7" stroke="#5a9a40" stroke-opacity="0.3" stroke-width="0.6"/>
<circle cx="547.1" cy="355.3" r="3.9" fill="#64af46" fill-opacity="0.7" stroke="#5a9a40" stroke-opacity="0.3" stroke-width="0.6"/>
<circle cx="562.7" cy="352.6" r="3.9" fill="#64af46" fill-opacity="0.7" stroke="#5a9a40" stroke-opacity="0.3" stroke-width="0.6"/>
<circle cx="598.3" cy="349.9" r="3.9" fill="#64af46" fill-opacity="0.7" stroke="#5a9a40" stroke-opacity="0.3" stroke-width="0.6"/>
<circle cx="663.0" cy="268.0" r="3.9" fill="#64af46" fill-opacity="0.7" stroke="#5a9a40" stroke-opacity="0.3" stroke-width="0.6"/>
<circle cx="617.3" cy="286.3" r="3.9" fill="#64af46" fill-opacity="0.7" stroke="#5a9a40" stroke-opacity="0.3" stroke-width="0.6"/>
<circle cx="629.4" cy="286.7" r="3.9" fill="#64af46" fill-opacity="0.7" stroke="#5a9a40" stroke-opacity="0.3" stroke-width="0.6"/>
<circle cx="658.3" cy="295.6" r="3.9" fill="#64af46" fill-opacity="0.7" stroke="#5a9a40" stroke-opacity="0.3" stroke-width="0.6"/>
<circle cx="582.1" cy="298.7" r="3.9" fill="#f7910f" fill-opacity="0.7" stroke="#e08a20" stroke-opacity="0.3" stroke-width="0.6"/>
<circle cx="573.1" cy="304.0" r="3.9" fill="#f7910f" fill-opacity="0.7" stroke="#e08a20" stroke-opacity="0.3" stroke-width="0.6"/>
<circle cx="579.4" cy="307.6" r="3.9" fill="#f7910f" fill-opacity="0.7" stroke="#e08a20" stroke-opacity="0.3" stroke-width="0.6"/>
<circle cx="586.6" cy="310.3" r="3.9" fill="#f7910f" fill-opacity="0.7" stroke="#e08a20" stroke-opacity="0.3" stroke-width="0.6"/>
<circle cx="567.7" cy="311.2" r="3.9" fill="#f7910f" fill-opacity="0.7" stroke="#e08a20" stroke-opacity="0.3" stroke-width="0.6"/>
<circle cx="562.3" cy="318.4" r="3.9" fill="#f7910f" fill-opacity="0.7" stroke="#e08a20" stroke-opacity="0.3" stroke-width="0.6"/>
<circle cx="565.0" cy="322.0" r="3.9" fill="#f7910f" fill-opacity="0.7" stroke="#e08a20" stroke-opacity="0.3" stroke-width="0.6"/>
<circle cx="552.5" cy="321.1" r="3.9" fill="#f7910f" fill-opacity="0.7" stroke="#e08a20" stroke-opacity="0.3" stroke-width="0.6"/>
<circle cx="548.9" cy="324.7" r="3.9" fill="#f7910f" fill-opacity="0.7" stroke="#e08a20" stroke-opacity="0.3" stroke-width="0.6"/>
<circle cx="555.2" cy="323.8" r="3.9" fill="#f7910f" fill-opacity="0.7" stroke="#e08a20" stroke-opacity="0.3" stroke-width="0.6"/>
<circle cx="546.2" cy="329.2" r="3.9" fill="#f7910f" fill-opacity="0.7" stroke="#e08a20" stroke-opacity="0.3" stroke-width="0.6"/>
<circle cx="552.5" cy="327.4" r="3.9" fill="#f7910f" fill-opacity="0.7" stroke="#e08a20" stroke-opacity="0.3" stroke-width="0.6"/>
<circle cx="558.8" cy="327.4" r="3.9" fill="#f7910f" fill-opacity="0.7" stroke="#e08a20" stroke-opacity="0.3" stroke-width="0.6"/>
<circle cx="562.3" cy="331.0" r="3.9" fill="#f7910f" fill-opacity="0.7" stroke="#e08a20" stroke-opacity="0.3" stroke-width="0.6"/>
<circle cx="598.3" cy="313.0" r="3.9" fill="#f7910f" fill-opacity="0.7" stroke="#e08a20" stroke-opacity="0.3" stroke-width="0.6"/>
<circle cx="617.3" cy="299.9" r="3.9" fill="#f7910f" fill-opacity="0.7" stroke="#e08a20" stroke-opacity="0.3" stroke-width="0.6"/>
<circle cx="629.4" cy="321.8" r="3.9" fill="#f7910f" fill-opacity="0.7" stroke="#e08a20" stroke-opacity="0.3" stroke-width="0.6"/>
<circle cx="658.7" cy="297.8" r="3.9" fill="#f7910f" fill-opacity="0.7" stroke="#e08a20" stroke-opacity="0.3" stroke-width="0.6"/>
<circle cx="663.4" cy="296.3" r="3.9" fill="#f7910f" fill-opacity="0.7" stroke="#e08a20" stroke-opacity="0.3" stroke-width="0.6"/>
<line x1="557.4" y1="376.6" x2="557.4" y2="373.6" stroke="#2a2a2a" stroke-width="1.1"/>
<line x1="593.6" y1="376.6" x2="593.6" y2="373.6" stroke="#2a2a2a" stroke-width="1.1"/>
<line x1="629.9" y1="376.6" x2="629.9" y2="373.6" stroke="#2a2a2a" stroke-width="1.1"/>
<line x1="666.1" y1="376.6" x2="666.1" y2="373.6" stroke="#2a2a2a" stroke-width="1.1"/>
<line x1="539.2" y1="376.6" x2="539.2" y2="375.0" stroke="#2a2a2a" stroke-width="1.0"/>
<line x1="575.5" y1="376.6" x2="575.5" y2="375.0" stroke="#2a2a2a" stroke-width="1.0"/>
<line x1="611.7" y1="376.6" x2="611.7" y2="375.0" stroke="#2a2a2a" stroke-width="1.0"/>
<line x1="648.0" y1="376.6" x2="648.0" y2="375.0" stroke="#2a2a2a" stroke-width="1.0"/>
<line x1="521.1" y1="335.6" x2="524.1" y2="335.6" stroke="#2a2a2a" stroke-width="1.1"/>
<line x1="521.1" y1="291.9" x2="524.1" y2="291.9" stroke="#2a2a2a" stroke-width="1.1"/>
<line x1="521.1" y1="248.2" x2="524.1" y2="248.2" stroke="#2a2a2a" stroke-width="1.1"/>
<line x1="521.1" y1="357.4" x2="522.7" y2="357.4" stroke="#2a2a2a" stroke-width="1.0"/>
<line x1="521.1" y1="313.7" x2="522.7" y2="313.7" stroke="#2a2a2a" stroke-width="1.0"/>
<line x1="521.1" y1="270.1" x2="522.7" y2="270.1" stroke="#2a2a2a" stroke-width="1.0"/>
<text class="tk" x="521.1" y="391.0" text-anchor="middle">0</text>
<text class="tk" x="557.4" y="391.0" text-anchor="middle">5</text>
<text class="tk" x="593.6" y="391.0" text-anchor="middle">10</text>
<text class="tk" x="629.9" y="391.0" text-anchor="middle">15</text>
<text class="tk" x="666.1" y="391.0" text-anchor="middle">20</text>
<rect x="42.3" y="226.4" width="638.3" height="150.2" fill="none" stroke="#2a2a2a" stroke-width="1.6"/>
<line x1="202.0" y1="226.4" x2="202.0" y2="376.6" stroke="#2a2a2a" stroke-width="1.6"/>
<line x1="361.6" y1="226.4" x2="361.6" y2="376.6" stroke="#2a2a2a" stroke-width="1.6"/>
<line x1="521.1" y1="226.4" x2="521.1" y2="376.6" stroke="#2a2a2a" stroke-width="1.6"/>
<text class="b" transform="translate(13.6,301.0) rotate(-90)" text-anchor="middle" style="font-size:15.8px" fill="#111">P concentration (mg/g)</text>
<text class="b" x="282.1" y="408.4" style="font-size:16.2px" fill="#111">Soil available P (mg/kg)</text>
<text x="46.3" y="442.3" style="font-size:18px" fill="#111">i</text>
<text class="st" transform="translate(63.3,440.0) scale(1.0,1)" fill="#1f7f2c" stroke="#1f7f2c" style="font-size:12.9px">Leaf</text>
<text class="st" x="93.9" y="440.0" fill="#1f7f2c" stroke="#1f7f2c" font-style="italic" style="font-size:12.9px">R</text>
<text class="st" x="103.2" y="434.8" fill="#1f7f2c" stroke="#1f7f2c" font-style="italic" style="font-size:8.6px">2</text>
<text class="st" transform="translate(109.0,441.0) scale(1.04,1)" fill="#1f7f2c" stroke="#1f7f2c" fill-opacity="0.85" stroke-opacity="0.5" style="font-size:12.9px">=</text>
<text class="st" x="118.9" y="440.0" fill="#1f7f2c" stroke="#1f7f2c" style="font-size:13.0px">0.6445<tspan dx="1.0" fill-opacity="0.85" stroke-opacity="0.6" style="letter-spacing:-0.2px;font-size:12.0px">***</tspan></text>
<text class="st" transform="translate(62.9,458.2) scale(1.0,1)" fill="#e4913f" stroke="#e4913f" style="font-size:12.9px">Seed</text>
<text class="st" x="95.4" y="458.2" fill="#e4913f" stroke="#e4913f" font-style="italic" style="font-size:12.9px">R</text>
<text class="st" x="104.7" y="453.0" fill="#e4913f" stroke="#e4913f" font-style="italic" style="font-size:8.6px">2</text>
<text class="st" transform="translate(111.9,459.2) scale(1.04,1)" fill="#e4913f" stroke="#e4913f" fill-opacity="0.85" stroke-opacity="0.5" style="font-size:12.9px">=</text>
<text class="st" x="121.8" y="458.2" fill="#e4913f" stroke="#e4913f" style="font-size:13.0px">0.2098<tspan dx="1.0" fill-opacity="0.85" stroke-opacity="0.6" style="letter-spacing:-0.2px;font-size:12.0px">*</tspan></text>
<line x1="72.2" y1="526.9" x2="182.6" y2="458.6" stroke="#5b9648" stroke-width="1.5"/>
<line x1="72.2" y1="530.2" x2="182.6" y2="523.3" stroke="#e89a30" stroke-width="1.5"/>
<circle cx="63.2" cy="507.0" r="3.9" fill="#64af46" fill-opacity="0.7" stroke="#5a9a40" stroke-opacity="0.3" stroke-width="0.6"/>
<circle cx="68.1" cy="512.6" r="3.9" fill="#64af46" fill-opacity="0.7" stroke="#5a9a40" stroke-opacity="0.3" stroke-width="0.6"/>
<circle cx="74.3" cy="512.6" r="3.9" fill="#64af46" fill-opacity="0.7" stroke="#5a9a40" stroke-opacity="0.3" stroke-width="0.6"/>
<circle cx="66.5" cy="522.9" r="3.9" fill="#64af46" fill-opacity="0.7" stroke="#5a9a40" stroke-opacity="0.3" stroke-width="0.6"/>
<circle cx="71.4" cy="522.9" r="3.9" fill="#64af46" fill-opacity="0.7" stroke="#5a9a40" stroke-opacity="0.3" stroke-width="0.6"/>
<circle cx="66.5" cy="533.5" r="3.9" fill="#64af46" fill-opacity="0.7" stroke="#5a9a40" stroke-opacity="0.3" stroke-width="0.6"/>
<circle cx="71.4" cy="544.9" r="3.9" fill="#64af46" fill-opacity="0.7" stroke="#5a9a40" stroke-opacity="0.3" stroke-width="0.6"/>
<circle cx="86.9" cy="515.2" r="3.9" fill="#64af46" fill-opacity="0.7" stroke="#5a9a40" stroke-opacity="0.3" stroke-width="0.6"/>
<circle cx="92.6" cy="518.0" r="3.9" fill="#64af46" fill-opacity="0.7" stroke="#5a9a40" stroke-opacity="0.3" stroke-width="0.6"/>
<circle cx="98.3" cy="521.2" r="3.9" fill="#64af46" fill-opacity="0.7" stroke="#5a9a40" stroke-opacity="0.3" stroke-width="0.6"/>
<circle cx="109.8" cy="506.5" r="3.9" fill="#64af46" fill-opacity="0.7" stroke="#5a9a40" stroke-opacity="0.3" stroke-width="0.6"/>
<circle cx="118.7" cy="490.2" r="3.9" fill="#64af46" fill-opacity="0.7" stroke="#5a9a40" stroke-opacity="0.3" stroke-width="0.6"/>
<circle cx="82.0" cy="539.2" r="3.9" fill="#64af46" fill-opacity="0.7" stroke="#5a9a40" stroke-opacity="0.3" stroke-width="0.6"/>
<circle cx="99.1" cy="531.8" r="3.9" fill="#64af46" fill-opacity="0.7" stroke="#5a9a40" stroke-opacity="0.3" stroke-width="0.6"/>
<circle cx="140.5" cy="431.0" r="3.9" fill="#64af46" fill-opacity="0.7" stroke="#5a9a40" stroke-opacity="0.3" stroke-width="0.6"/>
<circle cx="126.4" cy="460.6" r="3.9" fill="#64af46" fill-opacity="0.7" stroke="#5a9a40" stroke-opacity="0.3" stroke-width="0.6"/>
<circle cx="142.8" cy="478.8" r="3.9" fill="#64af46" fill-opacity="0.7" stroke="#5a9a40" stroke-opacity="0.3" stroke-width="0.6"/>
<circle cx="165.0" cy="467.4" r="3.9" fill="#64af46" fill-opacity="0.7" stroke="#5a9a40" stroke-opacity="0.3" stroke-width="0.6"/>
<circle cx="168.9" cy="466.5" r="3.9" fill="#64af46" fill-opacity="0.7" stroke="#5a9a40" stroke-opacity="0.3" stroke-width="0.6"/>
<circle cx="177.7" cy="475.3" r="3.9" fill="#64af46" fill-opacity="0.7" stroke="#5a9a40" stroke-opacity="0.3" stroke-width="0.6"/>
<circle cx="182.6" cy="476.3" r="3.9" fill="#64af46" fill-opacity="0.7" stroke="#5a9a40" stroke-opacity="0.3" stroke-width="0.6"/>
<circle cx="62.4" cy="527.8" r="3.9" fill="#f7910f" fill-opacity="0.7" stroke="#e08a20" stroke-opacity="0.3" stroke-width="0.6"/>
<circle cx="67.3" cy="526.9" r="3.9" fill="#f7910f" fill-opacity="0.7" stroke="#e08a20" stroke-opacity="0.3" stroke-width="0.6"/>
<circle cx="68.9" cy="530.2" r="3.9" fill="#f7910f" fill-opacity="0.7" stroke="#e08a20" stroke-opacity="0.3" stroke-width="0.6"/>
<circle cx="72.2" cy="532.7" r="3.9" fill="#f7910f" fill-opacity="0.7" stroke="#e08a20" stroke-opacity="0.3" stroke-width="0.6"/>
<circle cx="67.3" cy="532.7" r="3.9" fill="#f7910f" fill-opacity="0.7" stroke="#e08a20" stroke-opacity="0.3" stroke-width="0.6"/>
<circle cx="72.2" cy="536.7" r="3.9" fill="#f7910f" fill-opacity="0.7" stroke="#e08a20" stroke-opacity="0.3" stroke-width="0.6"/>
<circle cx="82.0" cy="528.6" r="3.9" fill="#f7910f" fill-opacity="0.7" stroke="#e08a20" stroke-opacity="0.3" stroke-width="0.6"/>
<circle cx="85.3" cy="526.1" r="3.9" fill="#f7910f" fill-opacity="0.7" stroke="#e08a20" stroke-opacity="0.3" stroke-width="0.6"/>
<circle cx="88.5" cy="526.1" r="3.9" fill="#f7910f" fill-opacity="0.7" stroke="#e08a20" stroke-opacity="0.3" stroke-width="0.6"/>
<circle cx="82.8" cy="531.8" r="3.9" fill="#f7910f" fill-opacity="0.7" stroke="#e08a20" stroke-opacity="0.3" stroke-width="0.6"/>
<circle cx="99.1" cy="528.6" r="3.9" fill="#f7910f" fill-opacity="0.7" stroke="#e08a20" stroke-opacity="0.3" stroke-width="0.6"/>
<circle cx="99.1" cy="530.2" r="3.9" fill="#f7910f" fill-opacity="0.7" stroke="#e08a20" stroke-opacity="0.3" stroke-width="0.6"/>
<circle cx="91.8" cy="540.0" r="3.9" fill="#f7910f" fill-opacity="0.7" stroke="#e08a20" stroke-opacity="0.3" stroke-width="0.6"/>
<circle cx="108.9" cy="535.1" r="3.9" fill="#f7910f" fill-opacity="0.7" stroke="#e08a20" stroke-opacity="0.3" stroke-width="0.6"/>
<circle cx="110.2" cy="519.6" r="3.9" fill="#f7910f" fill-opacity="0.7" stroke="#e08a20" stroke-opacity="0.3" stroke-width="0.6"/>
<circle cx="118.4" cy="515.5" r="3.9" fill="#f7910f" fill-opacity="0.7" stroke="#e08a20" stroke-opacity="0.3" stroke-width="0.6"/>
<circle cx="126.4" cy="521.9" r="3.9" fill="#f7910f" fill-opacity="0.7" stroke="#e08a20" stroke-opacity="0.3" stroke-width="0.6"/>
<circle cx="142.8" cy="524.7" r="3.9" fill="#f7910f" fill-opacity="0.7" stroke="#e08a20" stroke-opacity="0.3" stroke-width="0.6"/>
<circle cx="140.1" cy="530.5" r="3.9" fill="#f7910f" fill-opacity="0.7" stroke="#e08a20" stroke-opacity="0.3" stroke-width="0.6"/>
<circle cx="165.6" cy="518.4" r="3.9" fill="#f7910f" fill-opacity="0.7" stroke="#e08a20" stroke-opacity="0.3" stroke-width="0.6"/>
<circle cx="168.3" cy="527.2" r="3.9" fill="#f7910f" fill-opacity="0.7" stroke="#e08a20" stroke-opacity="0.3" stroke-width="0.6"/>
<circle cx="178.1" cy="528.2" r="3.9" fill="#f7910f" fill-opacity="0.7" stroke="#e08a20" stroke-opacity="0.3" stroke-width="0.6"/>
<circle cx="182.0" cy="522.7" r="3.9" fill="#f7910f" fill-opacity="0.7" stroke="#e08a20" stroke-opacity="0.3" stroke-width="0.6"/>
<line x1="106.3" y1="574.8" x2="106.3" y2="572.2" stroke="#2a2a2a" stroke-width="1.1"/>
<line x1="170.2" y1="574.8" x2="170.2" y2="572.2" stroke="#2a2a2a" stroke-width="1.1"/>
<line x1="74.3" y1="574.8" x2="74.3" y2="573.5" stroke="#2a2a2a" stroke-width="1.0"/>
<line x1="138.2" y1="574.8" x2="138.2" y2="573.5" stroke="#2a2a2a" stroke-width="1.0"/>
<line x1="42.3" y1="537.1" x2="44.9" y2="537.1" stroke="#2a2a2a" stroke-width="1.1"/>
<line x1="42.3" y1="499.5" x2="44.9" y2="499.5" stroke="#2a2a2a" stroke-width="1.1"/>
<line x1="42.3" y1="461.8" x2="44.9" y2="461.8" stroke="#2a2a2a" stroke-width="1.1"/>
<line x1="42.3" y1="556.0" x2="43.6" y2="556.0" stroke="#2a2a2a" stroke-width="1.0"/>
<line x1="42.3" y1="518.3" x2="43.6" y2="518.3" stroke="#2a2a2a" stroke-width="1.0"/>
<line x1="42.3" y1="480.7" x2="43.6" y2="480.7" stroke="#2a2a2a" stroke-width="1.0"/>
<line x1="42.3" y1="443.0" x2="43.6" y2="443.0" stroke="#2a2a2a" stroke-width="1.0"/>
<text class="tk" x="42.3" y="589.0" text-anchor="middle">0</text>
<text class="tk" x="106.3" y="589.0" text-anchor="middle">4</text>
<text class="tk" x="170.2" y="589.0" text-anchor="middle">8</text>
<text class="tk" x="39.9" y="542.0" text-anchor="end">5</text>
<text class="tk" x="39.9" y="504.4" text-anchor="end">10</text>
<text class="tk" x="39.9" y="466.7" text-anchor="end">15</text>
<text class="tk" x="39.9" y="429.1" text-anchor="end">20</text>
<text x="206.2" y="442.3" style="font-size:18px" fill="#111">j</text>
<text class="st" transform="translate(222.2,440.0) scale(1.0,1)" fill="#1f7f2c" stroke="#1f7f2c" style="font-size:12.9px">Leaf</text>
<text class="st" x="252.5" y="440.0" fill="#1f7f2c" stroke="#1f7f2c" font-style="italic" style="font-size:12.9px">R</text>
<text class="st" x="261.8" y="434.8" fill="#1f7f2c" stroke="#1f7f2c" font-style="italic" style="font-size:8.6px">2</text>
<text class="st" transform="translate(268.7,441.0) scale(1.04,1)" fill="#1f7f2c" stroke="#1f7f2c" fill-opacity="0.85" stroke-opacity="0.5" style="font-size:12.9px">=</text>
<text class="st" x="279.0" y="440.0" fill="#1f7f2c" stroke="#1f7f2c" style="font-size:13.0px">0.7313<tspan dx="1.0" fill-opacity="0.85" stroke-opacity="0.6" style="letter-spacing:-0.2px;font-size:12.0px">***</tspan></text>
<text class="st" transform="translate(221.5,458.2) scale(1.0,1)" fill="#e4913f" stroke="#e4913f" style="font-size:12.9px">Seed</text>
<text class="st" x="253.6" y="458.2" fill="#e4913f" stroke="#e4913f" font-style="italic" style="font-size:12.9px">R</text>
<text class="st" x="262.9" y="453.0" fill="#e4913f" stroke="#e4913f" font-style="italic" style="font-size:8.6px">2</text>
<text class="st" transform="translate(269.8,459.2) scale(1.04,1)" fill="#e4913f" stroke="#e4913f" fill-opacity="0.85" stroke-opacity="0.5" style="font-size:12.9px">=</text>
<text class="st" x="279.7" y="458.2" fill="#e4913f" stroke="#e4913f" style="font-size:13.0px">0.5869<tspan dx="1.0" fill-opacity="0.85" stroke-opacity="0.6" style="letter-spacing:-0.2px;font-size:12.0px">***</tspan></text>
<line x1="224.9" y1="530.2" x2="342.6" y2="470.4" stroke="#5b9648" stroke-width="1.5"/>
<line x1="226.5" y1="528.6" x2="342.6" y2="510.5" stroke="#e89a30" stroke-width="1.5"/>
<circle cx="277.9" cy="478.3" r="3.9" fill="#64af46" fill-opacity="0.7" stroke="#5a9a40" stroke-opacity="0.3" stroke-width="0.6"/>
<circle cx="247.4" cy="515.8" r="3.9" fill="#64af46" fill-opacity="0.7" stroke="#5a9a40" stroke-opacity="0.3" stroke-width="0.6"/>
<circle cx="269.8" cy="509.8" r="3.9" fill="#64af46" fill-opacity="0.7" stroke="#5a9a40" stroke-opacity="0.3" stroke-width="0.6"/>
<circle cx="234.7" cy="522.0" r="3.9" fill="#64af46" fill-opacity="0.7" stroke="#5a9a40" stroke-opacity="0.3" stroke-width="0.6"/>
<circle cx="222.4" cy="531.5" r="3.9" fill="#64af46" fill-opacity="0.7" stroke="#5a9a40" stroke-opacity="0.3" stroke-width="0.6"/>
<circle cx="225.7" cy="534.3" r="3.9" fill="#64af46" fill-opacity="0.7" stroke="#5a9a40" stroke-opacity="0.3" stroke-width="0.6"/>
<circle cx="232.2" cy="538.4" r="3.9" fill="#64af46" fill-opacity="0.7" stroke="#5a9a40" stroke-opacity="0.3" stroke-width="0.6"/>
<circle cx="242.0" cy="540.3" r="3.9" fill="#64af46" fill-opacity="0.7" stroke="#5a9a40" stroke-opacity="0.3" stroke-width="0.6"/>
<circle cx="259.1" cy="533.5" r="3.9" fill="#64af46" fill-opacity="0.7" stroke="#5a9a40" stroke-opacity="0.3" stroke-width="0.6"/>
<circle cx="251.0" cy="523.7" r="3.9" fill="#64af46" fill-opacity="0.7" stroke="#5a9a40" stroke-opacity="0.3" stroke-width="0.6"/>
<circle cx="286.4" cy="479.2" r="3.9" fill="#64af46" fill-opacity="0.7" stroke="#5a9a40" stroke-opacity="0.3" stroke-width="0.6"/>
<circle cx="302.8" cy="472.9" r="3.9" fill="#64af46" fill-opacity="0.7" stroke="#5a9a40" stroke-opacity="0.3" stroke-width="0.6"/>
<circle cx="325.6" cy="469.8" r="3.9" fill="#64af46" fill-opacity="0.7" stroke="#5a9a40" stroke-opacity="0.3" stroke-width="0.6"/>
<circle cx="328.9" cy="467.4" r="3.9" fill="#64af46" fill-opacity="0.7" stroke="#5a9a40" stroke-opacity="0.3" stroke-width="0.6"/>
<circle cx="338.1" cy="485.1" r="3.9" fill="#64af46" fill-opacity="0.7" stroke="#5a9a40" stroke-opacity="0.3" stroke-width="0.6"/>
<circle cx="342.0" cy="493.3" r="3.9" fill="#64af46" fill-opacity="0.7" stroke="#5a9a40" stroke-opacity="0.3" stroke-width="0.6"/>
<circle cx="222.4" cy="522.9" r="3.9" fill="#f7910f" fill-opacity="0.7" stroke="#e08a20" stroke-opacity="0.3" stroke-width="0.6"/>
<circle cx="227.3" cy="520.4" r="3.9" fill="#f7910f" fill-opacity="0.7" stroke="#e08a20" stroke-opacity="0.3" stroke-width="0.6"/>
<circle cx="228.9" cy="526.9" r="3.9" fill="#f7910f" fill-opacity="0.7" stroke="#e08a20" stroke-opacity="0.3" stroke-width="0.6"/>
<circle cx="226.5" cy="530.2" r="3.9" fill="#f7910f" fill-opacity="0.7" stroke="#e08a20" stroke-opacity="0.3" stroke-width="0.6"/>
<circle cx="231.4" cy="531.0" r="3.9" fill="#f7910f" fill-opacity="0.7" stroke="#e08a20" stroke-opacity="0.3" stroke-width="0.6"/>
<circle cx="241.2" cy="526.9" r="3.9" fill="#f7910f" fill-opacity="0.7" stroke="#e08a20" stroke-opacity="0.3" stroke-width="0.6"/>
<circle cx="245.3" cy="525.3" r="3.9" fill="#f7910f" fill-opacity="0.7" stroke="#e08a20" stroke-opacity="0.3" stroke-width="0.6"/>
<circle cx="242.8" cy="531.8" r="3.9" fill="#f7910f" fill-opacity="0.7" stroke="#e08a20" stroke-opacity="0.3" stroke-width="0.6"/>
<circle cx="251.0" cy="531.8" r="3.9" fill="#f7910f" fill-opacity="0.7" stroke="#e08a20" stroke-opacity="0.3" stroke-width="0.6"/>
<circle cx="258.3" cy="523.7" r="3.9" fill="#f7910f" fill-opacity="0.7" stroke="#e08a20" stroke-opacity="0.3" stroke-width="0.6"/>
<circle cx="258.3" cy="526.9" r="3.9" fill="#f7910f" fill-opacity="0.7" stroke="#e08a20" stroke-opacity="0.3" stroke-width="0.6"/>
<circle cx="268.9" cy="518.0" r="3.9" fill="#f7910f" fill-opacity="0.7" stroke="#e08a20" stroke-opacity="0.3" stroke-width="0.6"/>
<circle cx="278.7" cy="524.5" r="3.9" fill="#f7910f" fill-opacity="0.7" stroke="#e08a20" stroke-opacity="0.3" stroke-width="0.6"/>
<circle cx="286.4" cy="510.2" r="3.9" fill="#f7910f" fill-opacity="0.7" stroke="#e08a20" stroke-opacity="0.3" stroke-width="0.6"/>
<circle cx="300.1" cy="516.0" r="3.9" fill="#f7910f" fill-opacity="0.7" stroke="#e08a20" stroke-opacity="0.3" stroke-width="0.6"/>
<circle cx="328.3" cy="510.2" r="3.9" fill="#f7910f" fill-opacity="0.7" stroke="#e08a20" stroke-opacity="0.3" stroke-width="0.6"/>
<circle cx="325.6" cy="521.9" r="3.9" fill="#f7910f" fill-opacity="0.7" stroke="#e08a20" stroke-opacity="0.3" stroke-width="0.6"/>
<circle cx="338.1" cy="512.9" r="3.9" fill="#f7910f" fill-opacity="0.7" stroke="#e08a20" stroke-opacity="0.3" stroke-width="0.6"/>
<circle cx="342.0" cy="506.6" r="3.9" fill="#f7910f" fill-opacity="0.7" stroke="#e08a20" stroke-opacity="0.3" stroke-width="0.6"/>
<circle cx="228.1" cy="525.4" r="3.9" fill="#f7910f" fill-opacity="0.7" stroke="#e08a20" stroke-opacity="0.3" stroke-width="0.6"/>
<circle cx="244.2" cy="534.2" r="3.9" fill="#f7910f" fill-opacity="0.7" stroke="#e08a20" stroke-opacity="0.3" stroke-width="0.6"/>
<circle cx="250.8" cy="532.7" r="3.9" fill="#f7910f" fill-opacity="0.7" stroke="#e08a20" stroke-opacity="0.3" stroke-width="0.6"/>
<circle cx="259.5" cy="526.9" r="3.9" fill="#f7910f" fill-opacity="0.7" stroke="#e08a20" stroke-opacity="0.3" stroke-width="0.6"/>
<line x1="266.2" y1="574.8" x2="266.2" y2="572.2" stroke="#2a2a2a" stroke-width="1.1"/>
<line x1="330.3" y1="574.8" x2="330.3" y2="572.2" stroke="#2a2a2a" stroke-width="1.1"/>
<line x1="234.2" y1="574.8" x2="234.2" y2="573.5" stroke="#2a2a2a" stroke-width="1.0"/>
<line x1="298.3" y1="574.8" x2="298.3" y2="573.5" stroke="#2a2a2a" stroke-width="1.0"/>
<line x1="202.2" y1="537.1" x2="204.8" y2="537.1" stroke="#2a2a2a" stroke-width="1.1"/>
<line x1="202.2" y1="499.5" x2="204.8" y2="499.5" stroke="#2a2a2a" stroke-width="1.1"/>
<line x1="202.2" y1="461.8" x2="204.8" y2="461.8" stroke="#2a2a2a" stroke-width="1.1"/>
<line x1="202.2" y1="556.0" x2="203.5" y2="556.0" stroke="#2a2a2a" stroke-width="1.0"/>
<line x1="202.2" y1="518.3" x2="203.5" y2="518.3" stroke="#2a2a2a" stroke-width="1.0"/>
<line x1="202.2" y1="480.7" x2="203.5" y2="480.7" stroke="#2a2a2a" stroke-width="1.0"/>
<line x1="202.2" y1="443.0" x2="203.5" y2="443.0" stroke="#2a2a2a" stroke-width="1.0"/>
<text class="tk" x="202.2" y="589.0" text-anchor="middle">0</text>
<text class="tk" x="266.2" y="589.0" text-anchor="middle">4</text>
<text class="tk" x="330.3" y="589.0" text-anchor="middle">8</text>
<text x="366.3" y="442.3" style="font-size:18px" fill="#111">k</text>
<text class="st" transform="translate(386.9,440.0) scale(1.0,1)" fill="#1f7f2c" stroke="#1f7f2c" style="font-size:12.9px">Leaf</text>
<text class="st" x="417.6" y="440.0" fill="#1f7f2c" stroke="#1f7f2c" font-style="italic" style="font-size:12.9px">R</text>
<text class="st" x="426.9" y="434.8" fill="#1f7f2c" stroke="#1f7f2c" font-style="italic" style="font-size:8.6px">2</text>
<text class="st" transform="translate(433.8,441.0) scale(1.04,1)" fill="#1f7f2c" stroke="#1f7f2c" fill-opacity="0.85" stroke-opacity="0.5" style="font-size:12.9px">=</text>
<text class="st" x="444.1" y="440.0" fill="#1f7f2c" stroke="#1f7f2c" style="font-size:13.0px">0.4262<tspan dx="1.0" fill-opacity="0.85" stroke-opacity="0.6" style="letter-spacing:-0.2px;font-size:12.0px">***</tspan></text>
<text class="st" transform="translate(386.4,458.2) scale(1.0,1)" fill="#e4913f" stroke="#e4913f" style="font-size:12.9px">Seed</text>
<text class="st" x="418.4" y="458.2" fill="#e4913f" stroke="#e4913f" font-style="italic" style="font-size:12.9px">R</text>
<text class="st" x="427.7" y="453.0" fill="#e4913f" stroke="#e4913f" font-style="italic" style="font-size:8.6px">2</text>
<text class="st" transform="translate(434.6,459.2) scale(1.04,1)" fill="#e4913f" stroke="#e4913f" fill-opacity="0.85" stroke-opacity="0.5" style="font-size:12.9px">=</text>
<text class="st" x="444.8" y="458.2" fill="#e4913f" stroke="#e4913f" style="font-size:13.0px">0.2383<tspan dx="1.0" fill-opacity="0.85" stroke-opacity="0.6" style="letter-spacing:-0.2px;font-size:12.0px">*</tspan></text>
<line x1="388.1" y1="538.6" x2="498.7" y2="499.4" stroke="#5b9648" stroke-width="1.5"/>
<line x1="388.1" y1="537.1" x2="498.7" y2="524.9" stroke="#e89a30" stroke-width="1.5"/>
<circle cx="383.2" cy="519.0" r="3.9" fill="#64af46" fill-opacity="0.7" stroke="#5a9a40" stroke-opacity="0.3" stroke-width="0.6"/>
<circle cx="393.8" cy="521.9" r="3.9" fill="#64af46" fill-opacity="0.7" stroke="#5a9a40" stroke-opacity="0.3" stroke-width="0.6"/>
<circle cx="398.7" cy="526.3" r="3.9" fill="#64af46" fill-opacity="0.7" stroke="#5a9a40" stroke-opacity="0.3" stroke-width="0.6"/>
<circle cx="406.9" cy="517.7" r="3.9" fill="#64af46" fill-opacity="0.7" stroke="#5a9a40" stroke-opacity="0.3" stroke-width="0.6"/>
<circle cx="387.3" cy="527.1" r="3.9" fill="#64af46" fill-opacity="0.7" stroke="#5a9a40" stroke-opacity="0.3" stroke-width="0.6"/>
<circle cx="429.8" cy="523.9" r="3.9" fill="#64af46" fill-opacity="0.7" stroke="#5a9a40" stroke-opacity="0.3" stroke-width="0.6"/>
<circle cx="418.3" cy="544.3" r="3.9" fill="#64af46" fill-opacity="0.7" stroke="#5a9a40" stroke-opacity="0.3" stroke-width="0.6"/>
<circle cx="428.6" cy="541.5" r="3.9" fill="#64af46" fill-opacity="0.7" stroke="#5a9a40" stroke-opacity="0.3" stroke-width="0.6"/>
<circle cx="403.6" cy="548.0" r="3.9" fill="#64af46" fill-opacity="0.7" stroke="#5a9a40" stroke-opacity="0.3" stroke-width="0.6"/>
<circle cx="390.6" cy="555.2" r="3.9" fill="#64af46" fill-opacity="0.7" stroke="#5a9a40" stroke-opacity="0.3" stroke-width="0.6"/>
<circle cx="402.0" cy="554.9" r="3.9" fill="#64af46" fill-opacity="0.7" stroke="#5a9a40" stroke-opacity="0.3" stroke-width="0.6"/>
<circle cx="446.4" cy="493.1" r="3.9" fill="#64af46" fill-opacity="0.7" stroke="#5a9a40" stroke-opacity="0.3" stroke-width="0.6"/>
<circle cx="462.8" cy="489.2" r="3.9" fill="#64af46" fill-opacity="0.7" stroke="#5a9a40" stroke-opacity="0.3" stroke-width="0.6"/>
<circle cx="460.1" cy="497.4" r="3.9" fill="#64af46" fill-opacity="0.7" stroke="#5a9a40" stroke-opacity="0.3" stroke-width="0.6"/>
<circle cx="488.3" cy="496.1" r="3.9" fill="#64af46" fill-opacity="0.7" stroke="#5a9a40" stroke-opacity="0.3" stroke-width="0.6"/>
<circle cx="498.1" cy="511.1" r="3.9" fill="#64af46" fill-opacity="0.7" stroke="#5a9a40" stroke-opacity="0.3" stroke-width="0.6"/>
<circle cx="485.6" cy="518.2" r="3.9" fill="#64af46" fill-opacity="0.7" stroke="#5a9a40" stroke-opacity="0.3" stroke-width="0.6"/>
<circle cx="382.4" cy="528.8" r="3.9" fill="#f7910f" fill-opacity="0.7" stroke="#e08a20" stroke-opacity="0.3" stroke-width="0.6"/>
<circle cx="386.5" cy="534.5" r="3.9" fill="#f7910f" fill-opacity="0.7" stroke="#e08a20" stroke-opacity="0.3" stroke-width="0.6"/>
<circle cx="387.3" cy="538.6" r="3.9" fill="#f7910f" fill-opacity="0.7" stroke="#e08a20" stroke-opacity="0.3" stroke-width="0.6"/>
<circle cx="385.7" cy="542.7" r="3.9" fill="#f7910f" fill-opacity="0.7" stroke="#e08a20" stroke-opacity="0.3" stroke-width="0.6"/>
<circle cx="390.6" cy="548.4" r="3.9" fill="#f7910f" fill-opacity="0.7" stroke="#e08a20" stroke-opacity="0.3" stroke-width="0.6"/>
<circle cx="394.7" cy="532.9" r="3.9" fill="#f7910f" fill-opacity="0.7" stroke="#e08a20" stroke-opacity="0.3" stroke-width="0.6"/>
<circle cx="397.1" cy="539.4" r="3.9" fill="#f7910f" fill-opacity="0.7" stroke="#e08a20" stroke-opacity="0.3" stroke-width="0.6"/>
<circle cx="402.0" cy="540.2" r="3.9" fill="#f7910f" fill-opacity="0.7" stroke="#e08a20" stroke-opacity="0.3" stroke-width="0.6"/>
<circle cx="406.1" cy="527.1" r="3.9" fill="#f7910f" fill-opacity="0.7" stroke="#e08a20" stroke-opacity="0.3" stroke-width="0.6"/>
<circle cx="411.8" cy="525.2" r="3.9" fill="#f7910f" fill-opacity="0.7" stroke="#e08a20" stroke-opacity="0.3" stroke-width="0.6"/>
<circle cx="418.3" cy="525.5" r="3.9" fill="#f7910f" fill-opacity="0.7" stroke="#e08a20" stroke-opacity="0.3" stroke-width="0.6"/>
<circle cx="418.3" cy="541.5" r="3.9" fill="#f7910f" fill-opacity="0.7" stroke="#e08a20" stroke-opacity="0.3" stroke-width="0.6"/>
<circle cx="429.8" cy="531.2" r="3.9" fill="#f7910f" fill-opacity="0.7" stroke="#e08a20" stroke-opacity="0.3" stroke-width="0.6"/>
<circle cx="438.4" cy="536.1" r="3.9" fill="#f7910f" fill-opacity="0.7" stroke="#e08a20" stroke-opacity="0.3" stroke-width="0.6"/>
<circle cx="446.4" cy="516.6" r="3.9" fill="#f7910f" fill-opacity="0.7" stroke="#e08a20" stroke-opacity="0.3" stroke-width="0.6"/>
<circle cx="462.8" cy="525.4" r="3.9" fill="#f7910f" fill-opacity="0.7" stroke="#e08a20" stroke-opacity="0.3" stroke-width="0.6"/>
<circle cx="460.1" cy="536.6" r="3.9" fill="#f7910f" fill-opacity="0.7" stroke="#e08a20" stroke-opacity="0.3" stroke-width="0.6"/>
<circle cx="485.6" cy="520.9" r="3.9" fill="#f7910f" fill-opacity="0.7" stroke="#e08a20" stroke-opacity="0.3" stroke-width="0.6"/>
<circle cx="498.1" cy="524.9" r="3.9" fill="#f7910f" fill-opacity="0.7" stroke="#e08a20" stroke-opacity="0.3" stroke-width="0.6"/>
<circle cx="502.0" cy="518.2" r="3.9" fill="#f7910f" fill-opacity="0.7" stroke="#e08a20" stroke-opacity="0.3" stroke-width="0.6"/>
<circle cx="488.3" cy="542.5" r="3.9" fill="#f7910f" fill-opacity="0.7" stroke="#e08a20" stroke-opacity="0.3" stroke-width="0.6"/>
<circle cx="386.7" cy="537.6" r="3.9" fill="#f7910f" fill-opacity="0.7" stroke="#e08a20" stroke-opacity="0.3" stroke-width="0.6"/>
<circle cx="396.6" cy="540.0" r="3.9" fill="#f7910f" fill-opacity="0.7" stroke="#e08a20" stroke-opacity="0.3" stroke-width="0.6"/>
<circle cx="389.2" cy="533.9" r="3.9" fill="#f7910f" fill-opacity="0.7" stroke="#e08a20" stroke-opacity="0.3" stroke-width="0.6"/>
<line x1="426.3" y1="574.8" x2="426.3" y2="572.2" stroke="#2a2a2a" stroke-width="1.1"/>
<line x1="490.2" y1="574.8" x2="490.2" y2="572.2" stroke="#2a2a2a" stroke-width="1.1"/>
<line x1="394.3" y1="574.8" x2="394.3" y2="573.5" stroke="#2a2a2a" stroke-width="1.0"/>
<line x1="458.2" y1="574.8" x2="458.2" y2="573.5" stroke="#2a2a2a" stroke-width="1.0"/>
<line x1="362.3" y1="537.1" x2="364.9" y2="537.1" stroke="#2a2a2a" stroke-width="1.1"/>
<line x1="362.3" y1="499.5" x2="364.9" y2="499.5" stroke="#2a2a2a" stroke-width="1.1"/>
<line x1="362.3" y1="461.8" x2="364.9" y2="461.8" stroke="#2a2a2a" stroke-width="1.1"/>
<line x1="362.3" y1="556.0" x2="363.6" y2="556.0" stroke="#2a2a2a" stroke-width="1.0"/>
<line x1="362.3" y1="518.3" x2="363.6" y2="518.3" stroke="#2a2a2a" stroke-width="1.0"/>
<line x1="362.3" y1="480.7" x2="363.6" y2="480.7" stroke="#2a2a2a" stroke-width="1.0"/>
<line x1="362.3" y1="443.0" x2="363.6" y2="443.0" stroke="#2a2a2a" stroke-width="1.0"/>
<text class="tk" x="362.3" y="589.0" text-anchor="middle">0</text>
<text class="tk" x="426.3" y="589.0" text-anchor="middle">4</text>
<text class="tk" x="490.2" y="589.0" text-anchor="middle">8</text>
<text x="526.2" y="442.3" style="font-size:18px" fill="#111">l</text>
<text class="st" transform="translate(542.9,441.6) scale(1.0,1)" fill="#1f7f2c" stroke="#1f7f2c" style="font-size:12.9px">Leaf</text>
<text class="st" x="573.1" y="441.6" fill="#1f7f2c" stroke="#1f7f2c" font-style="italic" style="font-size:12.9px">R</text>
<text class="st" x="582.4" y="436.4" fill="#1f7f2c" stroke="#1f7f2c" font-style="italic" style="font-size:8.6px">2</text>
<text class="st" transform="translate(589.1,442.6) scale(1.04,1)" fill="#1f7f2c" stroke="#1f7f2c" fill-opacity="0.85" stroke-opacity="0.5" style="font-size:12.9px">=</text>
<text class="st" x="599.3" y="441.6" fill="#1f7f2c" stroke="#1f7f2c" style="font-size:13.0px">0.5234<tspan dx="1.0" fill-opacity="0.85" stroke-opacity="0.6" style="letter-spacing:-0.2px;font-size:12.0px">***</tspan></text>
<text class="st" transform="translate(542.2,459.8) scale(1.0,1)" fill="#e4913f" stroke="#e4913f" style="font-size:12.9px">Seed</text>
<text class="st" x="574.0" y="459.8" fill="#e4913f" stroke="#e4913f" font-style="italic" style="font-size:12.9px">R</text>
<text class="st" x="583.3" y="454.6" fill="#e4913f" stroke="#e4913f" font-style="italic" style="font-size:8.6px">2</text>
<text class="st" transform="translate(590.2,460.8) scale(1.04,1)" fill="#e4913f" stroke="#e4913f" fill-opacity="0.85" stroke-opacity="0.5" style="font-size:12.9px">=</text>
<text class="st" x="600.1" y="459.8" fill="#e4913f" stroke="#e4913f" style="font-size:13.0px">0.7323<tspan dx="1.0" fill-opacity="0.85" stroke-opacity="0.6" style="letter-spacing:-0.2px;font-size:12.0px">***</tspan></text>
<line x1="544.0" y1="536.9" x2="658.7" y2="460.3" stroke="#5b9648" stroke-width="1.5"/>
<line x1="544.9" y1="534.5" x2="662.6" y2="500.4" stroke="#e89a30" stroke-width="1.5"/>
<circle cx="543.2" cy="504.0" r="3.9" fill="#64af46" fill-opacity="0.7" stroke="#5a9a40" stroke-opacity="0.3" stroke-width="0.6"/>
<circle cx="548.1" cy="507.2" r="3.9" fill="#64af46" fill-opacity="0.7" stroke="#5a9a40" stroke-opacity="0.3" stroke-width="0.6"/>
<circle cx="567.4" cy="521.9" r="3.9" fill="#64af46" fill-opacity="0.7" stroke="#5a9a40" stroke-opacity="0.3" stroke-width="0.6"/>
<circle cx="588.1" cy="502.7" r="3.9" fill="#64af46" fill-opacity="0.7" stroke="#5a9a40" stroke-opacity="0.3" stroke-width="0.6"/>
<circle cx="578.3" cy="537.8" r="3.9" fill="#64af46" fill-opacity="0.7" stroke="#5a9a40" stroke-opacity="0.3" stroke-width="0.6"/>
<circle cx="546.5" cy="545.9" r="3.9" fill="#64af46" fill-opacity="0.7" stroke="#5a9a40" stroke-opacity="0.3" stroke-width="0.6"/>
<circle cx="551.1" cy="544.3" r="3.9" fill="#64af46" fill-opacity="0.7" stroke="#5a9a40" stroke-opacity="0.3" stroke-width="0.6"/>
<circle cx="562.8" cy="545.1" r="3.9" fill="#64af46" fill-opacity="0.7" stroke="#5a9a40" stroke-opacity="0.3" stroke-width="0.6"/>
<circle cx="597.9" cy="427.9" r="3.9" fill="#64af46" fill-opacity="0.7" stroke="#5a9a40" stroke-opacity="0.3" stroke-width="0.6"/>
<circle cx="620.1" cy="469.7" r="3.9" fill="#64af46" fill-opacity="0.7" stroke="#5a9a40" stroke-opacity="0.3" stroke-width="0.6"/>
<circle cx="645.6" cy="465.2" r="3.9" fill="#64af46" fill-opacity="0.7" stroke="#5a9a40" stroke-opacity="0.3" stroke-width="0.6"/>
<circle cx="657.7" cy="467.1" r="3.9" fill="#64af46" fill-opacity="0.7" stroke="#5a9a40" stroke-opacity="0.3" stroke-width="0.6"/>
<circle cx="606.4" cy="491.6" r="3.9" fill="#64af46" fill-opacity="0.7" stroke="#5a9a40" stroke-opacity="0.3" stroke-width="0.6"/>
<circle cx="648.3" cy="491.2" r="3.9" fill="#64af46" fill-opacity="0.7" stroke="#5a9a40" stroke-opacity="0.3" stroke-width="0.6"/>
<circle cx="542.4" cy="521.4" r="3.9" fill="#f7910f" fill-opacity="0.7" stroke="#e08a20" stroke-opacity="0.3" stroke-width="0.6"/>
<circle cx="546.5" cy="522.2" r="3.9" fill="#f7910f" fill-opacity="0.7" stroke="#e08a20" stroke-opacity="0.3" stroke-width="0.6"/>
<circle cx="553.8" cy="523.1" r="3.9" fill="#f7910f" fill-opacity="0.7" stroke="#e08a20" stroke-opacity="0.3" stroke-width="0.6"/>
<circle cx="544.9" cy="527.1" r="3.9" fill="#f7910f" fill-opacity="0.7" stroke="#e08a20" stroke-opacity="0.3" stroke-width="0.6"/>
<circle cx="548.9" cy="528.8" r="3.9" fill="#f7910f" fill-opacity="0.7" stroke="#e08a20" stroke-opacity="0.3" stroke-width="0.6"/>
<circle cx="552.2" cy="532.9" r="3.9" fill="#f7910f" fill-opacity="0.7" stroke="#e08a20" stroke-opacity="0.3" stroke-width="0.6"/>
<circle cx="546.5" cy="536.1" r="3.9" fill="#f7910f" fill-opacity="0.7" stroke="#e08a20" stroke-opacity="0.3" stroke-width="0.6"/>
<circle cx="562.0" cy="531.2" r="3.9" fill="#f7910f" fill-opacity="0.7" stroke="#e08a20" stroke-opacity="0.3" stroke-width="0.6"/>
<circle cx="562.8" cy="534.5" r="3.9" fill="#f7910f" fill-opacity="0.7" stroke="#e08a20" stroke-opacity="0.3" stroke-width="0.6"/>
<circle cx="578.3" cy="526.3" r="3.9" fill="#f7910f" fill-opacity="0.7" stroke="#e08a20" stroke-opacity="0.3" stroke-width="0.6"/>
<circle cx="588.9" cy="514.9" r="3.9" fill="#f7910f" fill-opacity="0.7" stroke="#e08a20" stroke-opacity="0.3" stroke-width="0.6"/>
<circle cx="589.8" cy="523.1" r="3.9" fill="#f7910f" fill-opacity="0.7" stroke="#e08a20" stroke-opacity="0.3" stroke-width="0.6"/>
<circle cx="598.4" cy="500.2" r="3.9" fill="#f7910f" fill-opacity="0.7" stroke="#e08a20" stroke-opacity="0.3" stroke-width="0.6"/>
<circle cx="606.4" cy="512.2" r="3.9" fill="#f7910f" fill-opacity="0.7" stroke="#e08a20" stroke-opacity="0.3" stroke-width="0.6"/>
<circle cx="620.1" cy="505.7" r="3.9" fill="#f7910f" fill-opacity="0.7" stroke="#e08a20" stroke-opacity="0.3" stroke-width="0.6"/>
<circle cx="645.6" cy="503.4" r="3.9" fill="#f7910f" fill-opacity="0.7" stroke="#e08a20" stroke-opacity="0.3" stroke-width="0.6"/>
<circle cx="648.3" cy="499.9" r="3.9" fill="#f7910f" fill-opacity="0.7" stroke="#e08a20" stroke-opacity="0.3" stroke-width="0.6"/>
<circle cx="658.1" cy="503.8" r="3.9" fill="#f7910f" fill-opacity="0.7" stroke="#e08a20" stroke-opacity="0.3" stroke-width="0.6"/>
<circle cx="662.0" cy="506.9" r="3.9" fill="#f7910f" fill-opacity="0.7" stroke="#e08a20" stroke-opacity="0.3" stroke-width="0.6"/>
<line x1="586.2" y1="574.8" x2="586.2" y2="572.2" stroke="#2a2a2a" stroke-width="1.1"/>
<line x1="650.2" y1="574.8" x2="650.2" y2="572.2" stroke="#2a2a2a" stroke-width="1.1"/>
<line x1="554.2" y1="574.8" x2="554.2" y2="573.5" stroke="#2a2a2a" stroke-width="1.0"/>
<line x1="618.2" y1="574.8" x2="618.2" y2="573.5" stroke="#2a2a2a" stroke-width="1.0"/>
<line x1="522.2" y1="537.1" x2="524.8" y2="537.1" stroke="#2a2a2a" stroke-width="1.1"/>
<line x1="522.2" y1="499.5" x2="524.8" y2="499.5" stroke="#2a2a2a" stroke-width="1.1"/>
<line x1="522.2" y1="461.8" x2="524.8" y2="461.8" stroke="#2a2a2a" stroke-width="1.1"/>
<line x1="522.2" y1="556.0" x2="523.5" y2="556.0" stroke="#2a2a2a" stroke-width="1.0"/>
<line x1="522.2" y1="518.3" x2="523.5" y2="518.3" stroke="#2a2a2a" stroke-width="1.0"/>
<line x1="522.2" y1="480.7" x2="523.5" y2="480.7" stroke="#2a2a2a" stroke-width="1.0"/>
<line x1="522.2" y1="443.0" x2="523.5" y2="443.0" stroke="#2a2a2a" stroke-width="1.0"/>
<text class="tk" x="522.2" y="589.0" text-anchor="middle">0</text>
<text class="tk" x="586.2" y="589.0" text-anchor="middle">4</text>
<text class="tk" x="650.2" y="589.0" text-anchor="middle">8</text>
<rect x="42.3" y="424.2" width="639.9" height="150.6" fill="none" stroke="#2a2a2a" stroke-width="1.6"/>
<line x1="202.2" y1="424.2" x2="202.2" y2="574.8" stroke="#2a2a2a" stroke-width="1.6"/>
<line x1="362.3" y1="424.2" x2="362.3" y2="574.8" stroke="#2a2a2a" stroke-width="1.6"/>
<line x1="522.2" y1="424.2" x2="522.2" y2="574.8" stroke="#2a2a2a" stroke-width="1.6"/>
<text class="b" transform="translate(14.6,499.5) rotate(-90)" text-anchor="middle" style="font-size:16.0px" fill="#111">N:P ratio</text>
<text class="b" x="270.5" y="608.1" style="font-size:15.6px" fill="#111">Soil available N and P ratio</text>
</svg></body></html>
